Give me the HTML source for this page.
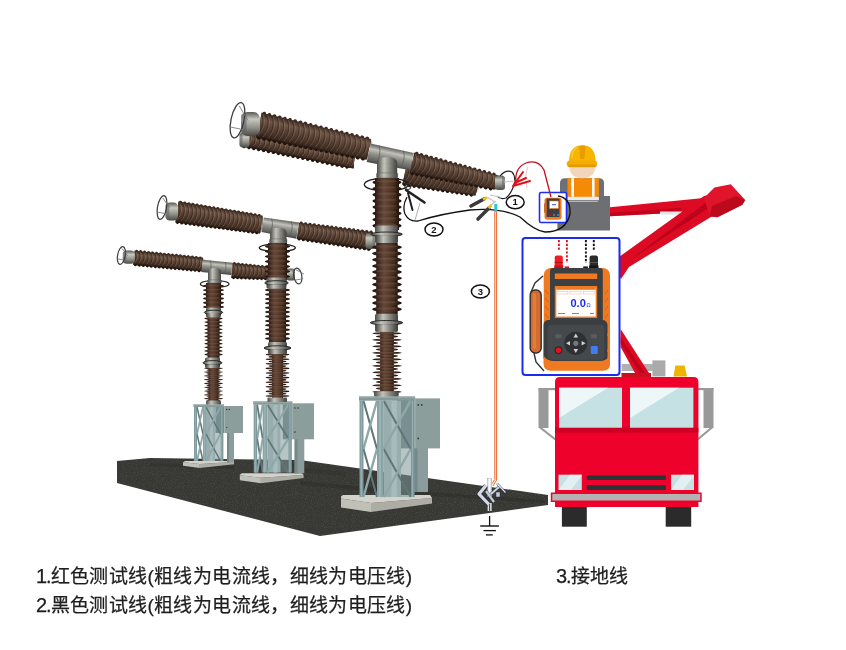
<!DOCTYPE html>
<html lang="zh-CN"><head><meta charset="utf-8">
<style>
html,body{margin:0;padding:0;background:#fff;}
body{width:846px;height:650px;position:relative;overflow:hidden;font-family:"Liberation Sans",sans-serif;}
.t{position:absolute;will-change:transform;font-size:19px;letter-spacing:0.36px;color:#1e1e1e;white-space:nowrap;-webkit-text-stroke:0.25px #1e1e1e;line-height:1;}
</style></head><body>
<svg width="846" height="650" viewBox="0 0 846 650" style="position:absolute;left:0;top:0;will-change:transform">
<defs>
<linearGradient id="brV" x1="0" x2="1" y1="0" y2="0">
 <stop offset="0" stop-color="#2a1a12"/><stop offset="0.3" stop-color="#5c4233"/><stop offset="0.65" stop-color="#4a3228"/><stop offset="1" stop-color="#22150e"/>
</linearGradient>
<linearGradient id="brArm" x1="0" x2="0" y1="0" y2="1">
 <stop offset="0" stop-color="#3e2c22"/><stop offset="0.25" stop-color="#6e5747"/><stop offset="0.5" stop-color="#584234"/><stop offset="0.8" stop-color="#433025"/><stop offset="1" stop-color="#2a1c14"/>
</linearGradient>
<linearGradient id="silArm" x1="0" x2="0" y1="0" y2="1">
 <stop offset="0" stop-color="#5e5e5a"/><stop offset="0.28" stop-color="#c2c2ba"/><stop offset="0.5" stop-color="#92928c"/><stop offset="0.85" stop-color="#62625e"/><stop offset="1" stop-color="#42423e"/>
</linearGradient>
<linearGradient id="shed" x1="0" x2="1" y1="0" y2="0">
 <stop offset="0" stop-color="#160b06"/><stop offset="0.14" stop-color="#38221a"/><stop offset="0.4" stop-color="#674838"/><stop offset="0.72" stop-color="#48301f"/><stop offset="0.9" stop-color="#2a180f"/><stop offset="1" stop-color="#140a05"/>
</linearGradient>
<linearGradient id="silV" x1="0" x2="1" y1="0" y2="0">
 <stop offset="0" stop-color="#4a4a46"/><stop offset="0.35" stop-color="#c4c4bc"/><stop offset="0.62" stop-color="#8c8c86"/><stop offset="1" stop-color="#42423e"/>
</linearGradient>
<linearGradient id="silH" x1="0" x2="0" y1="0" y2="1">
 <stop offset="0" stop-color="#5a5a56"/><stop offset="0.3" stop-color="#c8c8c0"/><stop offset="0.65" stop-color="#90908a"/><stop offset="1" stop-color="#484844"/>
</linearGradient>
<linearGradient id="steel" x1="0" x2="1" y1="0" y2="0">
 <stop offset="0" stop-color="#7f979a"/><stop offset="0.5" stop-color="#9fb5b7"/><stop offset="1" stop-color="#7a9194"/>
</linearGradient>
<filter id="noise" x="0" y="0" width="100%" height="100%">
 <feTurbulence type="fractalNoise" baseFrequency="0.9" numOctaves="2" seed="3" result="n"/>
 <feColorMatrix type="matrix" values="0 0 0 0 1  0 0 0 0 1  0 0 0 0 1  1.2 0 0 0 -0.55" in="n" result="a"/>
 <feComposite in="a" in2="SourceGraphic" operator="in"/>
</filter>
</defs>
<g>
<polygon points="117,461 150,458 300,460 548,495 548,505 320,536 117,483" fill="#373733"/>
<polygon points="117,461 150,458 300,460 548,495 548,505 320,536 117,483" fill="#888" filter="url(#noise)" opacity="0.18"/>
<polygon points="150,463 235,466 235,469 150,466" fill="#2e2e2c" opacity="0.5"/>
<polygon points="300,481 400,490 545,500 545,503 400,494 300,485" fill="#2c2c2a" opacity="0.5"/>
<polygon points="300,468 345,472 345,476 300,472" fill="#2c2c2a" opacity="0.4"/>
</g>
<polygon points="183,462.3 199.8,464.0 199.8,468.0 183,465.7" fill="#c0c0b8"/>
<polygon points="199.8,464.0 234,462.1 234,464.2 199.8,468.0" fill="#adada5"/>
<polygon points="185,461 232,461 234,462.1 199.8,464.0 183,462.3 183,462.5" fill="#d3d3cb"/>
<rect x="227" y="433" width="7" height="29" fill="#8a9d9c"/>
<rect x="227" y="433" width="2.1" height="29" fill="#76898a"/>
<rect x="215.5" y="407" width="8.5" height="26" fill="#75888a"/>
<rect x="206" y="407" width="9" height="54" fill="#98adae"/>
<rect x="210.1" y="407" width="2.7" height="54" fill="#a9bcbd"/>
<rect x="215" y="407" width="5.5" height="54" fill="#7d9597" opacity="0.55"/>
<line x1="197" y1="407.0" x2="203" y2="434.0" stroke="#5f7577" stroke-width="1.5"/>
<line x1="197" y1="434.0" x2="203" y2="407.0" stroke="#8ea8a9" stroke-width="1.8"/>
<line x1="197" y1="434.0" x2="203" y2="461.0" stroke="#5f7577" stroke-width="1.5"/>
<line x1="197" y1="461.0" x2="203" y2="434.0" stroke="#8ea8a9" stroke-width="1.8"/>
<line x1="206" y1="407.0" x2="220.5" y2="434.0" stroke="#5f7577" stroke-width="1.5"/>
<line x1="206" y1="434.0" x2="220.5" y2="407.0" stroke="#8ea8a9" stroke-width="1.8"/>
<line x1="206" y1="434.0" x2="220.5" y2="461.0" stroke="#5f7577" stroke-width="1.5"/>
<line x1="206" y1="461.0" x2="220.5" y2="434.0" stroke="#8ea8a9" stroke-width="1.8"/>
<rect x="194" y="407" width="3.0" height="54" fill="#7f9a9c"/>
<rect x="194.9" y="407" width="0.9" height="54" fill="#a2b9ba" opacity="0.7"/>
<rect x="220.5" y="407" width="2.9" height="54" fill="#7a9597"/>
<rect x="221.4" y="407" width="0.9" height="54" fill="#a2b9ba" opacity="0.7"/>
<rect x="203" y="407" width="3.0" height="54" fill="#8aa3a4"/>
<rect x="203.9" y="407" width="0.9" height="54" fill="#a2b9ba" opacity="0.7"/>
<rect x="193.5" y="404" width="30.400000000000006" height="3" fill="#869998"/>
<rect x="193.5" y="404" width="30.400000000000006" height="1.2" fill="#aebdbc"/>
<rect x="224" y="406" width="19" height="27" fill="#8b9e9c"/>
<rect x="224" y="406" width="1" height="27" fill="#a3b3b1"/>
<circle cx="226.7" cy="409.5" r="0.7" fill="#2f3838"/>
<circle cx="229.3" cy="409.5" r="0.7" fill="#2f3838"/>
<circle cx="226.7" cy="427.6" r="0.7" fill="#2f3838"/>
<polygon points="239.8,475.3 260.9,477.8 260.9,483.3 239.8,480.3" fill="#c0c0b8"/>
<polygon points="260.9,477.8 303.6,474.9 303.6,478.1 260.9,483.3" fill="#adada5"/>
<polygon points="241.8,473.3 301.6,473.3 303.6,474.9 260.9,477.8 239.8,475.3 239.8,474.8" fill="#d3d3cb"/>
<rect x="294.6" y="439" width="9.699999999999989" height="34.30000000000001" fill="#8a9d9c"/>
<rect x="294.6" y="439" width="2.9" height="34.30000000000001" fill="#76898a"/>
<rect x="282.8" y="404.3" width="9.0" height="35.0" fill="#75888a"/>
<rect x="267.5" y="404.7" width="13.199999999999989" height="67.90000000000003" fill="#98adae"/>
<rect x="273.4" y="404.7" width="4.0" height="67.90000000000003" fill="#a9bcbd"/>
<rect x="280.7" y="404.7" width="7.6" height="67.90000000000003" fill="#7d9597" opacity="0.55"/>
<line x1="257.2" y1="404.7" x2="262.7" y2="438.6" stroke="#5f7577" stroke-width="1.8"/>
<line x1="257.2" y1="438.6" x2="262.7" y2="404.7" stroke="#8ea8a9" stroke-width="2.1"/>
<line x1="257.2" y1="438.6" x2="262.7" y2="472.6" stroke="#5f7577" stroke-width="1.8"/>
<line x1="257.2" y1="472.6" x2="262.7" y2="438.6" stroke="#8ea8a9" stroke-width="2.1"/>
<line x1="267.5" y1="404.7" x2="288.3" y2="438.6" stroke="#5f7577" stroke-width="1.8"/>
<line x1="267.5" y1="438.6" x2="288.3" y2="404.7" stroke="#8ea8a9" stroke-width="2.1"/>
<line x1="267.5" y1="438.6" x2="288.3" y2="472.6" stroke="#5f7577" stroke-width="1.8"/>
<line x1="267.5" y1="472.6" x2="288.3" y2="438.6" stroke="#8ea8a9" stroke-width="2.1"/>
<rect x="253.7" y="404.7" width="3.5" height="67.90000000000003" fill="#7f9a9c"/>
<rect x="254.8" y="404.7" width="1.1" height="67.90000000000003" fill="#a2b9ba" opacity="0.7"/>
<rect x="288.3" y="404.7" width="3.5" height="67.90000000000003" fill="#7a9597"/>
<rect x="289.4" y="404.7" width="1.1" height="67.90000000000003" fill="#a2b9ba" opacity="0.7"/>
<rect x="262.7" y="404.7" width="4.8" height="67.90000000000003" fill="#8aa3a4"/>
<rect x="264.1" y="404.7" width="1.4" height="67.90000000000003" fill="#a2b9ba" opacity="0.7"/>
<rect x="253.2" y="401.2" width="39.10000000000002" height="3.5" fill="#869998"/>
<rect x="253.2" y="401.2" width="39.10000000000002" height="1.2" fill="#aebdbc"/>
<rect x="291.8" y="403.3" width="22.19999999999999" height="36.0" fill="#8b9e9c"/>
<rect x="291.8" y="403.3" width="1" height="36.0" fill="#a3b3b1"/>
<circle cx="294.9" cy="408.0" r="0.8" fill="#2f3838"/>
<circle cx="298.0" cy="408.0" r="0.8" fill="#2f3838"/>
<circle cx="294.9" cy="432.1" r="0.8" fill="#2f3838"/>
<polygon points="341,498.5 371.0,503.0 371.0,512.0 341,507.5" fill="#c0c0b8"/>
<polygon points="371.0,503.0 432,497.9 432,503.5 371.0,512.0" fill="#adada5"/>
<polygon points="343,495 430,495 432,497.9 371.0,503.0 341,498.5 341,496.5" fill="#d3d3cb"/>
<rect x="413" y="448" width="15" height="44" fill="#8a9d9c"/>
<rect x="413" y="448" width="4.5" height="44" fill="#76898a"/>
<rect x="397" y="399.4" width="17.600000000000023" height="49.0" fill="#75888a"/>
<rect x="383.7" y="400.7" width="17.30000000000001" height="96.30000000000001" fill="#98adae"/>
<rect x="391.5" y="400.7" width="5.2" height="96.30000000000001" fill="#a9bcbd"/>
<rect x="401" y="400.7" width="9.7" height="96.30000000000001" fill="#7d9597" opacity="0.55"/>
<line x1="363.5" y1="400.7" x2="377" y2="448.9" stroke="#5f7577" stroke-width="2.0"/>
<line x1="363.5" y1="448.9" x2="377" y2="400.7" stroke="#8ea8a9" stroke-width="2.4"/>
<line x1="363.5" y1="448.9" x2="377" y2="497.0" stroke="#5f7577" stroke-width="2.0"/>
<line x1="363.5" y1="497.0" x2="377" y2="448.9" stroke="#8ea8a9" stroke-width="2.4"/>
<line x1="383.7" y1="400.7" x2="410.7" y2="448.9" stroke="#5f7577" stroke-width="2.0"/>
<line x1="383.7" y1="448.9" x2="410.7" y2="400.7" stroke="#8ea8a9" stroke-width="2.4"/>
<line x1="383.7" y1="448.9" x2="410.7" y2="497.0" stroke="#5f7577" stroke-width="2.0"/>
<line x1="383.7" y1="497.0" x2="410.7" y2="448.9" stroke="#8ea8a9" stroke-width="2.4"/>
<rect x="359.5" y="400.7" width="4.0" height="96.30000000000001" fill="#7f9a9c"/>
<rect x="360.7" y="400.7" width="1.2" height="96.30000000000001" fill="#a2b9ba" opacity="0.7"/>
<rect x="410.7" y="400.7" width="3.9" height="96.30000000000001" fill="#7a9597"/>
<rect x="411.9" y="400.7" width="1.2" height="96.30000000000001" fill="#a2b9ba" opacity="0.7"/>
<rect x="377" y="400.7" width="6.7" height="96.30000000000001" fill="#8aa3a4"/>
<rect x="379.0" y="400.7" width="2.0" height="96.30000000000001" fill="#a2b9ba" opacity="0.7"/>
<rect x="359.0" y="396.2" width="56.10000000000002" height="4.5" fill="#869998"/>
<rect x="359.0" y="396.2" width="56.10000000000002" height="1.2" fill="#aebdbc"/>
<rect x="414.6" y="398.4" width="25.399999999999977" height="50.0" fill="#8b9e9c"/>
<rect x="414.6" y="398.4" width="1" height="50.0" fill="#a3b3b1"/>
<circle cx="418.2" cy="404.9" r="0.9" fill="#2f3838"/>
<circle cx="421.7" cy="404.9" r="0.9" fill="#2f3838"/>
<circle cx="418.2" cy="438.4" r="0.9" fill="#2f3838"/>
<g transform="translate(232.0,270.5) rotate(4.09)">
<polygon points="0,-7.5 56.1,-5.5 56.1,5.5 0,7.5" fill="url(#brArm)"/>
<circle cx="2.0" cy="-7.1" r="1.44" fill="#3e2a20"/>
<circle cx="2.0" cy="7.1" r="1.44" fill="#21140d"/>
<circle cx="6.0" cy="-7.0" r="1.44" fill="#3e2a20"/>
<circle cx="6.0" cy="7.0" r="1.44" fill="#21140d"/>
<circle cx="10.0" cy="-6.8" r="1.44" fill="#3e2a20"/>
<circle cx="10.0" cy="6.8" r="1.44" fill="#21140d"/>
<circle cx="14.0" cy="-6.7" r="1.44" fill="#3e2a20"/>
<circle cx="14.0" cy="6.7" r="1.44" fill="#21140d"/>
<circle cx="18.0" cy="-6.6" r="1.44" fill="#3e2a20"/>
<circle cx="18.0" cy="6.6" r="1.44" fill="#21140d"/>
<circle cx="22.0" cy="-6.4" r="1.44" fill="#3e2a20"/>
<circle cx="22.0" cy="6.4" r="1.44" fill="#21140d"/>
<circle cx="26.0" cy="-6.3" r="1.44" fill="#3e2a20"/>
<circle cx="26.0" cy="6.3" r="1.44" fill="#21140d"/>
<circle cx="30.0" cy="-6.1" r="1.44" fill="#3e2a20"/>
<circle cx="30.0" cy="6.1" r="1.44" fill="#21140d"/>
<circle cx="34.0" cy="-6.0" r="1.44" fill="#3e2a20"/>
<circle cx="34.0" cy="6.0" r="1.44" fill="#21140d"/>
<circle cx="38.0" cy="-5.8" r="1.44" fill="#3e2a20"/>
<circle cx="38.0" cy="5.8" r="1.44" fill="#21140d"/>
<circle cx="42.0" cy="-5.7" r="1.44" fill="#3e2a20"/>
<circle cx="42.0" cy="5.7" r="1.44" fill="#21140d"/>
<circle cx="46.0" cy="-5.6" r="1.44" fill="#3e2a20"/>
<circle cx="46.0" cy="5.6" r="1.44" fill="#21140d"/>
<circle cx="50.0" cy="-5.4" r="1.44" fill="#3e2a20"/>
<circle cx="50.0" cy="5.4" r="1.44" fill="#21140d"/>
<circle cx="54.0" cy="-5.3" r="1.44" fill="#3e2a20"/>
<circle cx="54.0" cy="5.3" r="1.44" fill="#21140d"/>
<polygon points="0,-6.7 56.1,-4.7 56.1,4.7 0,6.7" fill="url(#brArm)"/>
<path d="M0.0,-7.5 Q4.2,0 0.0,7.5" stroke="#33201a" stroke-width="1.1" fill="none" opacity="0.55"/>
<path d="M1.3,-6.5 Q5.5,-1.5 1.3,5.5" stroke="#a08474" stroke-width="0.7" fill="none" opacity="0.5"/>
<path d="M4.0,-7.4 Q8.1,0 4.0,7.4" stroke="#33201a" stroke-width="1.1" fill="none" opacity="0.55"/>
<path d="M5.3,-6.4 Q9.4,-1.5 5.3,5.4" stroke="#a08474" stroke-width="0.7" fill="none" opacity="0.5"/>
<path d="M8.0,-7.2 Q12.0,0 8.0,7.2" stroke="#33201a" stroke-width="1.1" fill="none" opacity="0.55"/>
<path d="M9.3,-6.2 Q13.3,-1.4 9.3,5.2" stroke="#a08474" stroke-width="0.7" fill="none" opacity="0.5"/>
<path d="M12.0,-7.1 Q16.0,0 12.0,7.1" stroke="#33201a" stroke-width="1.1" fill="none" opacity="0.55"/>
<path d="M13.3,-6.1 Q17.3,-1.4 13.3,5.1" stroke="#a08474" stroke-width="0.7" fill="none" opacity="0.5"/>
<path d="M16.0,-6.9 Q19.9,0 16.0,6.9" stroke="#33201a" stroke-width="1.1" fill="none" opacity="0.55"/>
<path d="M17.3,-5.9 Q21.2,-1.4 17.3,4.9" stroke="#a08474" stroke-width="0.7" fill="none" opacity="0.5"/>
<path d="M20.0,-6.8 Q23.8,0 20.0,6.8" stroke="#33201a" stroke-width="1.1" fill="none" opacity="0.55"/>
<path d="M21.3,-5.8 Q25.1,-1.4 21.3,4.8" stroke="#a08474" stroke-width="0.7" fill="none" opacity="0.5"/>
<path d="M24.0,-6.6 Q27.7,0 24.0,6.6" stroke="#33201a" stroke-width="1.1" fill="none" opacity="0.55"/>
<path d="M25.3,-5.6 Q29.0,-1.3 25.3,4.6" stroke="#a08474" stroke-width="0.7" fill="none" opacity="0.5"/>
<path d="M28.0,-6.5 Q31.6,0 28.0,6.5" stroke="#33201a" stroke-width="1.1" fill="none" opacity="0.55"/>
<path d="M29.3,-5.5 Q32.9,-1.3 29.3,4.5" stroke="#a08474" stroke-width="0.7" fill="none" opacity="0.5"/>
<path d="M32.0,-6.4 Q35.6,0 32.0,6.4" stroke="#33201a" stroke-width="1.1" fill="none" opacity="0.55"/>
<path d="M33.3,-5.4 Q36.9,-1.3 33.3,4.4" stroke="#a08474" stroke-width="0.7" fill="none" opacity="0.5"/>
<path d="M36.0,-6.2 Q39.5,0 36.0,6.2" stroke="#33201a" stroke-width="1.1" fill="none" opacity="0.55"/>
<path d="M37.3,-5.2 Q40.8,-1.2 37.3,4.2" stroke="#a08474" stroke-width="0.7" fill="none" opacity="0.5"/>
<path d="M40.0,-6.1 Q43.4,0 40.0,6.1" stroke="#33201a" stroke-width="1.1" fill="none" opacity="0.55"/>
<path d="M41.3,-5.1 Q44.7,-1.2 41.3,4.1" stroke="#a08474" stroke-width="0.7" fill="none" opacity="0.5"/>
<path d="M44.0,-5.9 Q47.3,0 44.0,5.9" stroke="#33201a" stroke-width="1.1" fill="none" opacity="0.55"/>
<path d="M45.3,-4.9 Q48.6,-1.2 45.3,3.9" stroke="#a08474" stroke-width="0.7" fill="none" opacity="0.5"/>
<path d="M48.0,-5.8 Q51.2,0 48.0,5.8" stroke="#33201a" stroke-width="1.1" fill="none" opacity="0.55"/>
<path d="M49.3,-4.8 Q52.5,-1.2 49.3,3.8" stroke="#a08474" stroke-width="0.7" fill="none" opacity="0.5"/>
<path d="M52.0,-5.6 Q55.2,0 52.0,5.6" stroke="#33201a" stroke-width="1.1" fill="none" opacity="0.55"/>
<path d="M53.3,-4.6 Q56.5,-1.1 53.3,3.6" stroke="#a08474" stroke-width="0.7" fill="none" opacity="0.5"/>
<path d="M56.0,-5.5 Q59.1,0 56.0,5.5" stroke="#33201a" stroke-width="1.1" fill="none" opacity="0.55"/>
<path d="M57.3,-4.5 Q60.4,-1.1 57.3,3.5" stroke="#a08474" stroke-width="0.7" fill="none" opacity="0.5"/>
</g>
<rect x="287.0" y="268.5" width="8.0" height="12.0" rx="2.8" fill="url(#silH)"/>
<rect x="292.6" y="269.2" width="2.4" height="10.6" rx="1.2" fill="#5e605e" opacity="0.55"/>
<g transform="translate(297.8,276) rotate(-10)">
<ellipse cx="0" cy="0" rx="4" ry="8" fill="none" stroke="#3a3c3c" stroke-width="1.2"/>
<line x1="-3.6" y1="3.6" x2="4.8" y2="3.6" stroke="#777" stroke-width="0.8"/>
<line x1="-0.8" y1="-6.4" x2="6.4" y2="-0.8" stroke="#777" stroke-width="0.8"/>
</g>
<g transform="translate(214.7,284) rotate(0)">
<ellipse cx="0" cy="0" rx="14.3" ry="3.5" fill="none" stroke="#222" stroke-width="1.2"/>
</g>
<rect x="206.0" y="283" width="15" height="25" fill="url(#brV)"/>
<ellipse cx="213.5" cy="285.9" rx="10.5" ry="1.70" fill="url(#shed)"/>
<ellipse cx="213.0" cy="285.3" rx="7.3" ry="0.77" fill="#7a5e50" opacity="0.35"/>
<ellipse cx="213.5" cy="290.1" rx="10.5" ry="1.70" fill="url(#shed)"/>
<ellipse cx="213.0" cy="289.5" rx="7.3" ry="0.77" fill="#7a5e50" opacity="0.35"/>
<ellipse cx="213.5" cy="294.3" rx="10.5" ry="1.70" fill="url(#shed)"/>
<ellipse cx="213.0" cy="293.7" rx="7.3" ry="0.77" fill="#7a5e50" opacity="0.35"/>
<ellipse cx="213.5" cy="298.5" rx="10.5" ry="1.70" fill="url(#shed)"/>
<ellipse cx="213.0" cy="297.9" rx="7.3" ry="0.77" fill="#7a5e50" opacity="0.35"/>
<ellipse cx="213.5" cy="302.7" rx="10.5" ry="1.70" fill="url(#shed)"/>
<ellipse cx="213.0" cy="302.1" rx="7.3" ry="0.77" fill="#7a5e50" opacity="0.35"/>
<ellipse cx="213.5" cy="306.9" rx="10.5" ry="1.70" fill="url(#shed)"/>
<ellipse cx="213.0" cy="306.3" rx="7.3" ry="0.77" fill="#7a5e50" opacity="0.35"/>
<rect x="207.5" y="316" width="12" height="42" fill="url(#brV)"/>
<ellipse cx="213.5" cy="318.5" rx="9.2" ry="1.30" fill="url(#shed)"/>
<ellipse cx="213.0" cy="318.1" rx="6.5" ry="0.59" fill="#7a5e50" opacity="0.35"/>
<ellipse cx="213.5" cy="322.1" rx="9.2" ry="1.30" fill="url(#shed)"/>
<ellipse cx="213.0" cy="321.7" rx="6.5" ry="0.59" fill="#7a5e50" opacity="0.35"/>
<ellipse cx="213.5" cy="325.7" rx="9.2" ry="1.30" fill="url(#shed)"/>
<ellipse cx="213.0" cy="325.3" rx="6.5" ry="0.59" fill="#7a5e50" opacity="0.35"/>
<ellipse cx="213.5" cy="329.3" rx="9.2" ry="1.30" fill="url(#shed)"/>
<ellipse cx="213.0" cy="328.9" rx="6.5" ry="0.59" fill="#7a5e50" opacity="0.35"/>
<ellipse cx="213.5" cy="332.9" rx="9.2" ry="1.30" fill="url(#shed)"/>
<ellipse cx="213.0" cy="332.5" rx="6.5" ry="0.59" fill="#7a5e50" opacity="0.35"/>
<ellipse cx="213.5" cy="336.5" rx="9.2" ry="1.30" fill="url(#shed)"/>
<ellipse cx="213.0" cy="336.1" rx="6.5" ry="0.59" fill="#7a5e50" opacity="0.35"/>
<ellipse cx="213.5" cy="340.1" rx="9.2" ry="1.30" fill="url(#shed)"/>
<ellipse cx="213.0" cy="339.7" rx="6.5" ry="0.59" fill="#7a5e50" opacity="0.35"/>
<ellipse cx="213.5" cy="343.7" rx="9.2" ry="1.30" fill="url(#shed)"/>
<ellipse cx="213.0" cy="343.3" rx="6.5" ry="0.59" fill="#7a5e50" opacity="0.35"/>
<ellipse cx="213.5" cy="347.3" rx="9.2" ry="1.30" fill="url(#shed)"/>
<ellipse cx="213.0" cy="346.9" rx="6.5" ry="0.59" fill="#7a5e50" opacity="0.35"/>
<ellipse cx="213.5" cy="350.9" rx="9.2" ry="1.30" fill="url(#shed)"/>
<ellipse cx="213.0" cy="350.5" rx="6.5" ry="0.59" fill="#7a5e50" opacity="0.35"/>
<ellipse cx="213.5" cy="354.5" rx="9.2" ry="1.30" fill="url(#shed)"/>
<ellipse cx="213.0" cy="354.1" rx="6.5" ry="0.59" fill="#7a5e50" opacity="0.35"/>
<rect x="208.5" y="367" width="10" height="35" fill="url(#brV)"/>
<ellipse cx="213.5" cy="368.3" rx="9.5" ry="0.90" fill="url(#shed)"/>
<ellipse cx="213.0" cy="368.0" rx="6.6" ry="0.41" fill="#7a5e50" opacity="0.35"/>
<ellipse cx="213.5" cy="370.2" rx="7.0" ry="0.90" fill="url(#shed)"/>
<ellipse cx="213.0" cy="369.9" rx="4.9" ry="0.41" fill="#7a5e50" opacity="0.35"/>
<ellipse cx="213.5" cy="372.1" rx="9.5" ry="0.90" fill="url(#shed)"/>
<ellipse cx="213.0" cy="371.8" rx="6.6" ry="0.41" fill="#7a5e50" opacity="0.35"/>
<ellipse cx="213.5" cy="374.0" rx="7.0" ry="0.90" fill="url(#shed)"/>
<ellipse cx="213.0" cy="373.7" rx="4.9" ry="0.41" fill="#7a5e50" opacity="0.35"/>
<ellipse cx="213.5" cy="375.9" rx="9.5" ry="0.90" fill="url(#shed)"/>
<ellipse cx="213.0" cy="375.6" rx="6.6" ry="0.41" fill="#7a5e50" opacity="0.35"/>
<ellipse cx="213.5" cy="377.8" rx="7.0" ry="0.90" fill="url(#shed)"/>
<ellipse cx="213.0" cy="377.5" rx="4.9" ry="0.41" fill="#7a5e50" opacity="0.35"/>
<ellipse cx="213.5" cy="379.7" rx="9.5" ry="0.90" fill="url(#shed)"/>
<ellipse cx="213.0" cy="379.4" rx="6.6" ry="0.41" fill="#7a5e50" opacity="0.35"/>
<ellipse cx="213.5" cy="381.6" rx="7.0" ry="0.90" fill="url(#shed)"/>
<ellipse cx="213.0" cy="381.3" rx="4.9" ry="0.41" fill="#7a5e50" opacity="0.35"/>
<ellipse cx="213.5" cy="383.5" rx="9.5" ry="0.90" fill="url(#shed)"/>
<ellipse cx="213.0" cy="383.2" rx="6.6" ry="0.41" fill="#7a5e50" opacity="0.35"/>
<ellipse cx="213.5" cy="385.4" rx="7.0" ry="0.90" fill="url(#shed)"/>
<ellipse cx="213.0" cy="385.1" rx="4.9" ry="0.41" fill="#7a5e50" opacity="0.35"/>
<ellipse cx="213.5" cy="387.3" rx="9.5" ry="0.90" fill="url(#shed)"/>
<ellipse cx="213.0" cy="387.0" rx="6.6" ry="0.41" fill="#7a5e50" opacity="0.35"/>
<ellipse cx="213.5" cy="389.2" rx="7.0" ry="0.90" fill="url(#shed)"/>
<ellipse cx="213.0" cy="388.9" rx="4.9" ry="0.41" fill="#7a5e50" opacity="0.35"/>
<ellipse cx="213.5" cy="391.1" rx="9.5" ry="0.90" fill="url(#shed)"/>
<ellipse cx="213.0" cy="390.8" rx="6.6" ry="0.41" fill="#7a5e50" opacity="0.35"/>
<ellipse cx="213.5" cy="393.0" rx="7.0" ry="0.90" fill="url(#shed)"/>
<ellipse cx="213.0" cy="392.7" rx="4.9" ry="0.41" fill="#7a5e50" opacity="0.35"/>
<ellipse cx="213.5" cy="394.9" rx="9.5" ry="0.90" fill="url(#shed)"/>
<ellipse cx="213.0" cy="394.6" rx="6.6" ry="0.41" fill="#7a5e50" opacity="0.35"/>
<ellipse cx="213.5" cy="396.8" rx="7.0" ry="0.90" fill="url(#shed)"/>
<ellipse cx="213.0" cy="396.5" rx="4.9" ry="0.41" fill="#7a5e50" opacity="0.35"/>
<ellipse cx="213.5" cy="398.7" rx="9.5" ry="0.90" fill="url(#shed)"/>
<ellipse cx="213.0" cy="398.4" rx="6.6" ry="0.41" fill="#7a5e50" opacity="0.35"/>
<ellipse cx="213.5" cy="400.6" rx="7.0" ry="0.90" fill="url(#shed)"/>
<ellipse cx="213.0" cy="400.3" rx="4.9" ry="0.41" fill="#7a5e50" opacity="0.35"/>
<rect x="206.0" y="307.5" width="15" height="9.800000000000011" rx="1.5" fill="url(#silV)"/>
<ellipse cx="213.5" cy="312.4" rx="9.2" ry="2.2" fill="url(#silV)" stroke="#1e1e1c" stroke-width="0.9"/>
<rect x="207.0" y="314.0" width="13" height="3.3" rx="1" fill="url(#silV)"/>
<rect x="205.0" y="357.6" width="15" height="10.399999999999977" rx="1.5" fill="url(#silV)"/>
<ellipse cx="212.5" cy="362.8" rx="9.5" ry="2.2" fill="url(#silV)" stroke="#1e1e1c" stroke-width="0.9"/>
<rect x="206.0" y="364.4" width="13" height="3.6" rx="1" fill="url(#silV)"/>
<rect x="206" y="400.5" width="15" height="4" rx="1" fill="url(#silV)"/>
<g transform="translate(134.0,257.8) rotate(5.67)">
<polygon points="0,-7.2 68.8,-6.8 68.8,6.8 0,7.2" fill="url(#brArm)"/>
<circle cx="2.0" cy="-6.9" r="1.44" fill="#3e2a20"/>
<circle cx="2.0" cy="6.9" r="1.44" fill="#21140d"/>
<circle cx="6.0" cy="-6.9" r="1.44" fill="#3e2a20"/>
<circle cx="6.0" cy="6.9" r="1.44" fill="#21140d"/>
<circle cx="10.0" cy="-6.8" r="1.44" fill="#3e2a20"/>
<circle cx="10.0" cy="6.8" r="1.44" fill="#21140d"/>
<circle cx="14.0" cy="-6.8" r="1.44" fill="#3e2a20"/>
<circle cx="14.0" cy="6.8" r="1.44" fill="#21140d"/>
<circle cx="18.0" cy="-6.8" r="1.44" fill="#3e2a20"/>
<circle cx="18.0" cy="6.8" r="1.44" fill="#21140d"/>
<circle cx="22.0" cy="-6.8" r="1.44" fill="#3e2a20"/>
<circle cx="22.0" cy="6.8" r="1.44" fill="#21140d"/>
<circle cx="26.0" cy="-6.7" r="1.44" fill="#3e2a20"/>
<circle cx="26.0" cy="6.7" r="1.44" fill="#21140d"/>
<circle cx="30.0" cy="-6.7" r="1.44" fill="#3e2a20"/>
<circle cx="30.0" cy="6.7" r="1.44" fill="#21140d"/>
<circle cx="34.0" cy="-6.7" r="1.44" fill="#3e2a20"/>
<circle cx="34.0" cy="6.7" r="1.44" fill="#21140d"/>
<circle cx="38.0" cy="-6.7" r="1.44" fill="#3e2a20"/>
<circle cx="38.0" cy="6.7" r="1.44" fill="#21140d"/>
<circle cx="42.0" cy="-6.7" r="1.44" fill="#3e2a20"/>
<circle cx="42.0" cy="6.7" r="1.44" fill="#21140d"/>
<circle cx="46.0" cy="-6.6" r="1.44" fill="#3e2a20"/>
<circle cx="46.0" cy="6.6" r="1.44" fill="#21140d"/>
<circle cx="50.0" cy="-6.6" r="1.44" fill="#3e2a20"/>
<circle cx="50.0" cy="6.6" r="1.44" fill="#21140d"/>
<circle cx="54.0" cy="-6.6" r="1.44" fill="#3e2a20"/>
<circle cx="54.0" cy="6.6" r="1.44" fill="#21140d"/>
<circle cx="58.0" cy="-6.6" r="1.44" fill="#3e2a20"/>
<circle cx="58.0" cy="6.6" r="1.44" fill="#21140d"/>
<circle cx="62.0" cy="-6.5" r="1.44" fill="#3e2a20"/>
<circle cx="62.0" cy="6.5" r="1.44" fill="#21140d"/>
<circle cx="66.0" cy="-6.5" r="1.44" fill="#3e2a20"/>
<circle cx="66.0" cy="6.5" r="1.44" fill="#21140d"/>
<polygon points="0,-6.4 68.8,-6.0 68.8,6.0 0,6.4" fill="url(#brArm)"/>
<path d="M0.0,-7.2 Q4.0,0 0.0,7.2" stroke="#33201a" stroke-width="1.1" fill="none" opacity="0.55"/>
<path d="M1.3,-6.2 Q5.3,-1.4 1.3,5.2" stroke="#a08474" stroke-width="0.7" fill="none" opacity="0.5"/>
<path d="M4.0,-7.2 Q8.0,0 4.0,7.2" stroke="#33201a" stroke-width="1.1" fill="none" opacity="0.55"/>
<path d="M5.3,-6.2 Q9.3,-1.4 5.3,5.2" stroke="#a08474" stroke-width="0.7" fill="none" opacity="0.5"/>
<path d="M8.0,-7.2 Q12.0,0 8.0,7.2" stroke="#33201a" stroke-width="1.1" fill="none" opacity="0.55"/>
<path d="M9.3,-6.2 Q13.3,-1.4 9.3,5.2" stroke="#a08474" stroke-width="0.7" fill="none" opacity="0.5"/>
<path d="M12.0,-7.1 Q16.0,0 12.0,7.1" stroke="#33201a" stroke-width="1.1" fill="none" opacity="0.55"/>
<path d="M13.3,-6.1 Q17.3,-1.4 13.3,5.1" stroke="#a08474" stroke-width="0.7" fill="none" opacity="0.5"/>
<path d="M16.0,-7.1 Q20.0,0 16.0,7.1" stroke="#33201a" stroke-width="1.1" fill="none" opacity="0.55"/>
<path d="M17.3,-6.1 Q21.3,-1.4 17.3,5.1" stroke="#a08474" stroke-width="0.7" fill="none" opacity="0.5"/>
<path d="M20.0,-7.1 Q24.0,0 20.0,7.1" stroke="#33201a" stroke-width="1.1" fill="none" opacity="0.55"/>
<path d="M21.3,-6.1 Q25.3,-1.4 21.3,5.1" stroke="#a08474" stroke-width="0.7" fill="none" opacity="0.5"/>
<path d="M24.0,-7.1 Q28.0,0 24.0,7.1" stroke="#33201a" stroke-width="1.1" fill="none" opacity="0.55"/>
<path d="M25.3,-6.1 Q29.3,-1.4 25.3,5.1" stroke="#a08474" stroke-width="0.7" fill="none" opacity="0.5"/>
<path d="M28.0,-7.0 Q31.9,0 28.0,7.0" stroke="#33201a" stroke-width="1.1" fill="none" opacity="0.55"/>
<path d="M29.3,-6.0 Q33.2,-1.4 29.3,5.0" stroke="#a08474" stroke-width="0.7" fill="none" opacity="0.5"/>
<path d="M32.0,-7.0 Q35.9,0 32.0,7.0" stroke="#33201a" stroke-width="1.1" fill="none" opacity="0.55"/>
<path d="M33.3,-6.0 Q37.2,-1.4 33.3,5.0" stroke="#a08474" stroke-width="0.7" fill="none" opacity="0.5"/>
<path d="M36.0,-7.0 Q39.9,0 36.0,7.0" stroke="#33201a" stroke-width="1.1" fill="none" opacity="0.55"/>
<path d="M37.3,-6.0 Q41.2,-1.4 37.3,5.0" stroke="#a08474" stroke-width="0.7" fill="none" opacity="0.5"/>
<path d="M40.0,-7.0 Q43.9,0 40.0,7.0" stroke="#33201a" stroke-width="1.1" fill="none" opacity="0.55"/>
<path d="M41.3,-6.0 Q45.2,-1.4 41.3,5.0" stroke="#a08474" stroke-width="0.7" fill="none" opacity="0.5"/>
<path d="M44.0,-6.9 Q47.9,0 44.0,6.9" stroke="#33201a" stroke-width="1.1" fill="none" opacity="0.55"/>
<path d="M45.3,-5.9 Q49.2,-1.4 45.3,4.9" stroke="#a08474" stroke-width="0.7" fill="none" opacity="0.5"/>
<path d="M48.0,-6.9 Q51.9,0 48.0,6.9" stroke="#33201a" stroke-width="1.1" fill="none" opacity="0.55"/>
<path d="M49.3,-5.9 Q53.2,-1.4 49.3,4.9" stroke="#a08474" stroke-width="0.7" fill="none" opacity="0.5"/>
<path d="M52.0,-6.9 Q55.9,0 52.0,6.9" stroke="#33201a" stroke-width="1.1" fill="none" opacity="0.55"/>
<path d="M53.3,-5.9 Q57.2,-1.4 53.3,4.9" stroke="#a08474" stroke-width="0.7" fill="none" opacity="0.5"/>
<path d="M56.0,-6.9 Q59.8,0 56.0,6.9" stroke="#33201a" stroke-width="1.1" fill="none" opacity="0.55"/>
<path d="M57.3,-5.9 Q61.1,-1.4 57.3,4.9" stroke="#a08474" stroke-width="0.7" fill="none" opacity="0.5"/>
<path d="M60.0,-6.9 Q63.8,0 60.0,6.9" stroke="#33201a" stroke-width="1.1" fill="none" opacity="0.55"/>
<path d="M61.3,-5.9 Q65.1,-1.4 61.3,4.9" stroke="#a08474" stroke-width="0.7" fill="none" opacity="0.5"/>
<path d="M64.0,-6.8 Q67.8,0 64.0,6.8" stroke="#33201a" stroke-width="1.1" fill="none" opacity="0.55"/>
<path d="M65.3,-5.8 Q69.1,-1.4 65.3,4.8" stroke="#a08474" stroke-width="0.7" fill="none" opacity="0.5"/>
<path d="M68.0,-6.8 Q71.8,0 68.0,6.8" stroke="#33201a" stroke-width="1.1" fill="none" opacity="0.55"/>
<path d="M69.3,-5.8 Q73.1,-1.4 69.3,4.8" stroke="#a08474" stroke-width="0.7" fill="none" opacity="0.5"/>
</g>
<rect x="122.8" y="250.6" width="12.0" height="13.2" rx="4.0" fill="url(#silH)"/>
<rect x="122.8" y="251.4" width="3.6" height="11.6" rx="1.8" fill="#5e605e" opacity="0.55"/>
<g transform="translate(121.4,255.5) rotate(10)">
<ellipse cx="0" cy="0" rx="3.8" ry="9" fill="none" stroke="#3a3c3c" stroke-width="1.2"/>
<line x1="-3.4" y1="4.0" x2="4.6" y2="4.0" stroke="#777" stroke-width="0.8"/>
<line x1="-0.8" y1="-7.2" x2="6.1" y2="-0.9" stroke="#777" stroke-width="0.8"/>
</g>
<g transform="translate(202.0,265.8) rotate(5.71)">
<polygon points="0,-6.2 30.1,-6.2 30.1,6.2 0,6.2" fill="url(#silArm)"/>
<path d="M7.5,-6.2 Q10.7,0 7.5,6.2" stroke="#5a5c5a" stroke-width="0.8" fill="none" opacity="0.8"/>
<path d="M22.6,-6.2 Q25.7,0 22.6,6.2" stroke="#5a5c5a" stroke-width="0.8" fill="none" opacity="0.8"/>
</g>
<rect x="208" y="271.9" width="13.0" height="11.1" fill="url(#silV)"/>
<path d="M208,272.2 Q208,268.0 214.5,268.0 Q221,268.0 221,272.2 Z" fill="url(#silV)"/>
<rect x="207.5" y="279.8" width="14.0" height="3.2" rx="1" fill="url(#silV)" stroke="#555" stroke-width="0.4"/>
<g transform="translate(298.0,230.8) rotate(7.89)">
<polygon points="0,-8.2 74.7,-9.0 74.7,9.0 0,8.2" fill="url(#brArm)"/>
<circle cx="2.2" cy="-8.0" r="1.58" fill="#3e2a20"/>
<circle cx="2.2" cy="8.0" r="1.58" fill="#21140d"/>
<circle cx="6.6" cy="-8.0" r="1.58" fill="#3e2a20"/>
<circle cx="6.6" cy="8.0" r="1.58" fill="#21140d"/>
<circle cx="11.0" cy="-8.1" r="1.58" fill="#3e2a20"/>
<circle cx="11.0" cy="8.1" r="1.58" fill="#21140d"/>
<circle cx="15.4" cy="-8.1" r="1.58" fill="#3e2a20"/>
<circle cx="15.4" cy="8.1" r="1.58" fill="#21140d"/>
<circle cx="19.8" cy="-8.1" r="1.58" fill="#3e2a20"/>
<circle cx="19.8" cy="8.1" r="1.58" fill="#21140d"/>
<circle cx="24.2" cy="-8.2" r="1.58" fill="#3e2a20"/>
<circle cx="24.2" cy="8.2" r="1.58" fill="#21140d"/>
<circle cx="28.6" cy="-8.2" r="1.58" fill="#3e2a20"/>
<circle cx="28.6" cy="8.2" r="1.58" fill="#21140d"/>
<circle cx="33.0" cy="-8.3" r="1.58" fill="#3e2a20"/>
<circle cx="33.0" cy="8.3" r="1.58" fill="#21140d"/>
<circle cx="37.4" cy="-8.3" r="1.58" fill="#3e2a20"/>
<circle cx="37.4" cy="8.3" r="1.58" fill="#21140d"/>
<circle cx="41.8" cy="-8.4" r="1.58" fill="#3e2a20"/>
<circle cx="41.8" cy="8.4" r="1.58" fill="#21140d"/>
<circle cx="46.2" cy="-8.4" r="1.58" fill="#3e2a20"/>
<circle cx="46.2" cy="8.4" r="1.58" fill="#21140d"/>
<circle cx="50.6" cy="-8.5" r="1.58" fill="#3e2a20"/>
<circle cx="50.6" cy="8.5" r="1.58" fill="#21140d"/>
<circle cx="55.0" cy="-8.5" r="1.58" fill="#3e2a20"/>
<circle cx="55.0" cy="8.5" r="1.58" fill="#21140d"/>
<circle cx="59.4" cy="-8.5" r="1.58" fill="#3e2a20"/>
<circle cx="59.4" cy="8.5" r="1.58" fill="#21140d"/>
<circle cx="63.8" cy="-8.6" r="1.58" fill="#3e2a20"/>
<circle cx="63.8" cy="8.6" r="1.58" fill="#21140d"/>
<circle cx="68.2" cy="-8.6" r="1.58" fill="#3e2a20"/>
<circle cx="68.2" cy="8.6" r="1.58" fill="#21140d"/>
<circle cx="72.6" cy="-8.7" r="1.58" fill="#3e2a20"/>
<circle cx="72.6" cy="8.7" r="1.58" fill="#21140d"/>
<polygon points="0,-7.5 74.7,-8.2 74.7,8.2 0,7.5" fill="url(#brArm)"/>
<path d="M0.0,-8.2 Q4.6,0 0.0,8.2" stroke="#33201a" stroke-width="1.1" fill="none" opacity="0.55"/>
<path d="M1.3,-7.2 Q5.9,-1.7 1.3,6.2" stroke="#a08474" stroke-width="0.7" fill="none" opacity="0.5"/>
<path d="M4.4,-8.3 Q9.0,0 4.4,8.3" stroke="#33201a" stroke-width="1.1" fill="none" opacity="0.55"/>
<path d="M5.7,-7.3 Q10.3,-1.7 5.7,6.3" stroke="#a08474" stroke-width="0.7" fill="none" opacity="0.5"/>
<path d="M8.8,-8.3 Q13.5,0 8.8,8.3" stroke="#33201a" stroke-width="1.1" fill="none" opacity="0.55"/>
<path d="M10.1,-7.3 Q14.8,-1.7 10.1,6.3" stroke="#a08474" stroke-width="0.7" fill="none" opacity="0.5"/>
<path d="M13.2,-8.4 Q17.9,0 13.2,8.4" stroke="#33201a" stroke-width="1.1" fill="none" opacity="0.55"/>
<path d="M14.5,-7.4 Q19.2,-1.7 14.5,6.4" stroke="#a08474" stroke-width="0.7" fill="none" opacity="0.5"/>
<path d="M17.6,-8.4 Q22.3,0 17.6,8.4" stroke="#33201a" stroke-width="1.1" fill="none" opacity="0.55"/>
<path d="M18.9,-7.4 Q23.6,-1.7 18.9,6.4" stroke="#a08474" stroke-width="0.7" fill="none" opacity="0.5"/>
<path d="M22.0,-8.5 Q26.7,0 22.0,8.5" stroke="#33201a" stroke-width="1.1" fill="none" opacity="0.55"/>
<path d="M23.3,-7.5 Q28.0,-1.7 23.3,6.5" stroke="#a08474" stroke-width="0.7" fill="none" opacity="0.5"/>
<path d="M26.4,-8.5 Q31.2,0 26.4,8.5" stroke="#33201a" stroke-width="1.1" fill="none" opacity="0.55"/>
<path d="M27.7,-7.5 Q32.5,-1.7 27.7,6.5" stroke="#a08474" stroke-width="0.7" fill="none" opacity="0.5"/>
<path d="M30.8,-8.6 Q35.6,0 30.8,8.6" stroke="#33201a" stroke-width="1.1" fill="none" opacity="0.55"/>
<path d="M32.1,-7.6 Q36.9,-1.7 32.1,6.6" stroke="#a08474" stroke-width="0.7" fill="none" opacity="0.5"/>
<path d="M35.2,-8.6 Q40.0,0 35.2,8.6" stroke="#33201a" stroke-width="1.1" fill="none" opacity="0.55"/>
<path d="M36.5,-7.6 Q41.3,-1.7 36.5,6.6" stroke="#a08474" stroke-width="0.7" fill="none" opacity="0.5"/>
<path d="M39.6,-8.6 Q44.4,0 39.6,8.6" stroke="#33201a" stroke-width="1.1" fill="none" opacity="0.55"/>
<path d="M40.9,-7.6 Q45.7,-1.7 40.9,6.6" stroke="#a08474" stroke-width="0.7" fill="none" opacity="0.5"/>
<path d="M44.0,-8.7 Q48.9,0 44.0,8.7" stroke="#33201a" stroke-width="1.1" fill="none" opacity="0.55"/>
<path d="M45.3,-7.7 Q50.2,-1.7 45.3,6.7" stroke="#a08474" stroke-width="0.7" fill="none" opacity="0.5"/>
<path d="M48.4,-8.7 Q53.3,0 48.4,8.7" stroke="#33201a" stroke-width="1.1" fill="none" opacity="0.55"/>
<path d="M49.7,-7.7 Q54.6,-1.7 49.7,6.7" stroke="#a08474" stroke-width="0.7" fill="none" opacity="0.5"/>
<path d="M52.8,-8.8 Q57.7,0 52.8,8.8" stroke="#33201a" stroke-width="1.1" fill="none" opacity="0.55"/>
<path d="M54.1,-7.8 Q59.0,-1.8 54.1,6.8" stroke="#a08474" stroke-width="0.7" fill="none" opacity="0.5"/>
<path d="M57.2,-8.8 Q62.1,0 57.2,8.8" stroke="#33201a" stroke-width="1.1" fill="none" opacity="0.55"/>
<path d="M58.5,-7.8 Q63.4,-1.8 58.5,6.8" stroke="#a08474" stroke-width="0.7" fill="none" opacity="0.5"/>
<path d="M61.6,-8.9 Q66.6,0 61.6,8.9" stroke="#33201a" stroke-width="1.1" fill="none" opacity="0.55"/>
<path d="M62.9,-7.9 Q67.9,-1.8 62.9,6.9" stroke="#a08474" stroke-width="0.7" fill="none" opacity="0.5"/>
<path d="M66.0,-8.9 Q71.0,0 66.0,8.9" stroke="#33201a" stroke-width="1.1" fill="none" opacity="0.55"/>
<path d="M67.3,-7.9 Q72.3,-1.8 67.3,6.9" stroke="#a08474" stroke-width="0.7" fill="none" opacity="0.5"/>
<path d="M70.4,-9.0 Q75.4,0 70.4,9.0" stroke="#33201a" stroke-width="1.1" fill="none" opacity="0.55"/>
<path d="M71.7,-8.0 Q76.7,-1.8 71.7,7.0" stroke="#a08474" stroke-width="0.7" fill="none" opacity="0.5"/>
</g>
<g transform="translate(277.3,247.7) rotate(0)">
<ellipse cx="0" cy="0" rx="18" ry="3.7" fill="none" stroke="#222" stroke-width="1.4"/>
</g>
<rect x="268.0" y="243" width="19" height="35" fill="url(#brV)"/>
<ellipse cx="277.5" cy="246.5" rx="12.5" ry="2.20" fill="url(#shed)"/>
<ellipse cx="277.0" cy="245.7" rx="8.8" ry="0.99" fill="#7a5e50" opacity="0.35"/>
<ellipse cx="277.5" cy="251.5" rx="12.5" ry="2.20" fill="url(#shed)"/>
<ellipse cx="277.0" cy="250.7" rx="8.8" ry="0.99" fill="#7a5e50" opacity="0.35"/>
<ellipse cx="277.5" cy="256.5" rx="12.5" ry="2.20" fill="url(#shed)"/>
<ellipse cx="277.0" cy="255.7" rx="8.8" ry="0.99" fill="#7a5e50" opacity="0.35"/>
<ellipse cx="277.5" cy="261.5" rx="12.5" ry="2.20" fill="url(#shed)"/>
<ellipse cx="277.0" cy="260.7" rx="8.8" ry="0.99" fill="#7a5e50" opacity="0.35"/>
<ellipse cx="277.5" cy="266.5" rx="12.5" ry="2.20" fill="url(#shed)"/>
<ellipse cx="277.0" cy="265.7" rx="8.8" ry="0.99" fill="#7a5e50" opacity="0.35"/>
<ellipse cx="277.5" cy="271.5" rx="12.5" ry="2.20" fill="url(#shed)"/>
<ellipse cx="277.0" cy="270.7" rx="8.8" ry="0.99" fill="#7a5e50" opacity="0.35"/>
<ellipse cx="277.5" cy="276.5" rx="12.5" ry="2.20" fill="url(#shed)"/>
<ellipse cx="277.0" cy="275.7" rx="8.8" ry="0.99" fill="#7a5e50" opacity="0.35"/>
<rect x="269.0" y="287" width="17" height="55.5" fill="url(#brV)"/>
<ellipse cx="277.5" cy="290.1" rx="12.5" ry="1.80" fill="url(#shed)"/>
<ellipse cx="277.0" cy="289.4" rx="8.8" ry="0.81" fill="#7a5e50" opacity="0.35"/>
<ellipse cx="277.5" cy="294.5" rx="12.5" ry="1.80" fill="url(#shed)"/>
<ellipse cx="277.0" cy="293.8" rx="8.8" ry="0.81" fill="#7a5e50" opacity="0.35"/>
<ellipse cx="277.5" cy="298.9" rx="12.5" ry="1.80" fill="url(#shed)"/>
<ellipse cx="277.0" cy="298.2" rx="8.8" ry="0.81" fill="#7a5e50" opacity="0.35"/>
<ellipse cx="277.5" cy="303.3" rx="12.5" ry="1.80" fill="url(#shed)"/>
<ellipse cx="277.0" cy="302.6" rx="8.8" ry="0.81" fill="#7a5e50" opacity="0.35"/>
<ellipse cx="277.5" cy="307.7" rx="12.5" ry="1.80" fill="url(#shed)"/>
<ellipse cx="277.0" cy="307.0" rx="8.8" ry="0.81" fill="#7a5e50" opacity="0.35"/>
<ellipse cx="277.5" cy="312.1" rx="12.5" ry="1.80" fill="url(#shed)"/>
<ellipse cx="277.0" cy="311.4" rx="8.8" ry="0.81" fill="#7a5e50" opacity="0.35"/>
<ellipse cx="277.5" cy="316.5" rx="12.5" ry="1.80" fill="url(#shed)"/>
<ellipse cx="277.0" cy="315.8" rx="8.8" ry="0.81" fill="#7a5e50" opacity="0.35"/>
<ellipse cx="277.5" cy="320.9" rx="12.5" ry="1.80" fill="url(#shed)"/>
<ellipse cx="277.0" cy="320.2" rx="8.8" ry="0.81" fill="#7a5e50" opacity="0.35"/>
<ellipse cx="277.5" cy="325.3" rx="12.5" ry="1.80" fill="url(#shed)"/>
<ellipse cx="277.0" cy="324.6" rx="8.8" ry="0.81" fill="#7a5e50" opacity="0.35"/>
<ellipse cx="277.5" cy="329.7" rx="12.5" ry="1.80" fill="url(#shed)"/>
<ellipse cx="277.0" cy="329.0" rx="8.8" ry="0.81" fill="#7a5e50" opacity="0.35"/>
<ellipse cx="277.5" cy="334.1" rx="12.5" ry="1.80" fill="url(#shed)"/>
<ellipse cx="277.0" cy="333.4" rx="8.8" ry="0.81" fill="#7a5e50" opacity="0.35"/>
<ellipse cx="277.5" cy="338.5" rx="12.5" ry="1.80" fill="url(#shed)"/>
<ellipse cx="277.0" cy="337.8" rx="8.8" ry="0.81" fill="#7a5e50" opacity="0.35"/>
<rect x="272.0" y="353" width="11" height="45.60000000000002" fill="url(#brV)"/>
<ellipse cx="277.5" cy="354.6" rx="12.0" ry="1.10" fill="url(#shed)"/>
<ellipse cx="277.0" cy="354.2" rx="8.4" ry="0.50" fill="#7a5e50" opacity="0.35"/>
<ellipse cx="277.5" cy="356.9" rx="9.0" ry="1.10" fill="url(#shed)"/>
<ellipse cx="277.0" cy="356.5" rx="6.3" ry="0.50" fill="#7a5e50" opacity="0.35"/>
<ellipse cx="277.5" cy="359.2" rx="12.0" ry="1.10" fill="url(#shed)"/>
<ellipse cx="277.0" cy="358.8" rx="8.4" ry="0.50" fill="#7a5e50" opacity="0.35"/>
<ellipse cx="277.5" cy="361.5" rx="9.0" ry="1.10" fill="url(#shed)"/>
<ellipse cx="277.0" cy="361.1" rx="6.3" ry="0.50" fill="#7a5e50" opacity="0.35"/>
<ellipse cx="277.5" cy="363.8" rx="12.0" ry="1.10" fill="url(#shed)"/>
<ellipse cx="277.0" cy="363.4" rx="8.4" ry="0.50" fill="#7a5e50" opacity="0.35"/>
<ellipse cx="277.5" cy="366.1" rx="9.0" ry="1.10" fill="url(#shed)"/>
<ellipse cx="277.0" cy="365.7" rx="6.3" ry="0.50" fill="#7a5e50" opacity="0.35"/>
<ellipse cx="277.5" cy="368.4" rx="12.0" ry="1.10" fill="url(#shed)"/>
<ellipse cx="277.0" cy="368.0" rx="8.4" ry="0.50" fill="#7a5e50" opacity="0.35"/>
<ellipse cx="277.5" cy="370.7" rx="9.0" ry="1.10" fill="url(#shed)"/>
<ellipse cx="277.0" cy="370.3" rx="6.3" ry="0.50" fill="#7a5e50" opacity="0.35"/>
<ellipse cx="277.5" cy="373.0" rx="12.0" ry="1.10" fill="url(#shed)"/>
<ellipse cx="277.0" cy="372.6" rx="8.4" ry="0.50" fill="#7a5e50" opacity="0.35"/>
<ellipse cx="277.5" cy="375.3" rx="9.0" ry="1.10" fill="url(#shed)"/>
<ellipse cx="277.0" cy="374.9" rx="6.3" ry="0.50" fill="#7a5e50" opacity="0.35"/>
<ellipse cx="277.5" cy="377.6" rx="12.0" ry="1.10" fill="url(#shed)"/>
<ellipse cx="277.0" cy="377.2" rx="8.4" ry="0.50" fill="#7a5e50" opacity="0.35"/>
<ellipse cx="277.5" cy="379.9" rx="9.0" ry="1.10" fill="url(#shed)"/>
<ellipse cx="277.0" cy="379.5" rx="6.3" ry="0.50" fill="#7a5e50" opacity="0.35"/>
<ellipse cx="277.5" cy="382.2" rx="12.0" ry="1.10" fill="url(#shed)"/>
<ellipse cx="277.0" cy="381.8" rx="8.4" ry="0.50" fill="#7a5e50" opacity="0.35"/>
<ellipse cx="277.5" cy="384.5" rx="9.0" ry="1.10" fill="url(#shed)"/>
<ellipse cx="277.0" cy="384.1" rx="6.3" ry="0.50" fill="#7a5e50" opacity="0.35"/>
<ellipse cx="277.5" cy="386.8" rx="12.0" ry="1.10" fill="url(#shed)"/>
<ellipse cx="277.0" cy="386.4" rx="8.4" ry="0.50" fill="#7a5e50" opacity="0.35"/>
<ellipse cx="277.5" cy="389.1" rx="9.0" ry="1.10" fill="url(#shed)"/>
<ellipse cx="277.0" cy="388.7" rx="6.3" ry="0.50" fill="#7a5e50" opacity="0.35"/>
<ellipse cx="277.5" cy="391.4" rx="12.0" ry="1.10" fill="url(#shed)"/>
<ellipse cx="277.0" cy="391.0" rx="8.4" ry="0.50" fill="#7a5e50" opacity="0.35"/>
<ellipse cx="277.5" cy="393.7" rx="9.0" ry="1.10" fill="url(#shed)"/>
<ellipse cx="277.0" cy="393.3" rx="6.3" ry="0.50" fill="#7a5e50" opacity="0.35"/>
<ellipse cx="277.5" cy="396.0" rx="12.0" ry="1.10" fill="url(#shed)"/>
<ellipse cx="277.0" cy="395.6" rx="8.4" ry="0.50" fill="#7a5e50" opacity="0.35"/>
<rect x="266.5" y="277.4" width="20" height="11.100000000000023" rx="1.5" fill="url(#silV)"/>
<ellipse cx="276.5" cy="282.9" rx="11.8" ry="2.2" fill="url(#silV)" stroke="#1e1e1c" stroke-width="0.9"/>
<rect x="267.5" y="284.6" width="18" height="4.0" rx="1" fill="url(#silV)"/>
<rect x="268.0" y="342" width="19" height="12" rx="1.5" fill="url(#silV)"/>
<ellipse cx="277.5" cy="348.0" rx="13.5" ry="2.2" fill="url(#silV)" stroke="#1e1e1c" stroke-width="0.9"/>
<rect x="269.0" y="349.6" width="17" height="4.4" rx="1" fill="url(#silV)"/>
<rect x="267.5" y="397.5" width="19.5" height="4.5" rx="1" fill="url(#silV)"/>
<g transform="translate(177.0,212.0) rotate(8.51)">
<polygon points="0,-10.5 85.4,-9.0 85.4,9.0 0,10.5" fill="url(#brArm)"/>
<circle cx="2.1" cy="-10.2" r="1.51" fill="#3e2a20"/>
<circle cx="2.1" cy="10.2" r="1.51" fill="#21140d"/>
<circle cx="6.3" cy="-10.1" r="1.51" fill="#3e2a20"/>
<circle cx="6.3" cy="10.1" r="1.51" fill="#21140d"/>
<circle cx="10.5" cy="-10.0" r="1.51" fill="#3e2a20"/>
<circle cx="10.5" cy="10.0" r="1.51" fill="#21140d"/>
<circle cx="14.7" cy="-9.9" r="1.51" fill="#3e2a20"/>
<circle cx="14.7" cy="9.9" r="1.51" fill="#21140d"/>
<circle cx="18.9" cy="-9.9" r="1.51" fill="#3e2a20"/>
<circle cx="18.9" cy="9.9" r="1.51" fill="#21140d"/>
<circle cx="23.1" cy="-9.8" r="1.51" fill="#3e2a20"/>
<circle cx="23.1" cy="9.8" r="1.51" fill="#21140d"/>
<circle cx="27.3" cy="-9.7" r="1.51" fill="#3e2a20"/>
<circle cx="27.3" cy="9.7" r="1.51" fill="#21140d"/>
<circle cx="31.5" cy="-9.6" r="1.51" fill="#3e2a20"/>
<circle cx="31.5" cy="9.6" r="1.51" fill="#21140d"/>
<circle cx="35.7" cy="-9.6" r="1.51" fill="#3e2a20"/>
<circle cx="35.7" cy="9.6" r="1.51" fill="#21140d"/>
<circle cx="39.9" cy="-9.5" r="1.51" fill="#3e2a20"/>
<circle cx="39.9" cy="9.5" r="1.51" fill="#21140d"/>
<circle cx="44.1" cy="-9.4" r="1.51" fill="#3e2a20"/>
<circle cx="44.1" cy="9.4" r="1.51" fill="#21140d"/>
<circle cx="48.3" cy="-9.3" r="1.51" fill="#3e2a20"/>
<circle cx="48.3" cy="9.3" r="1.51" fill="#21140d"/>
<circle cx="52.5" cy="-9.2" r="1.51" fill="#3e2a20"/>
<circle cx="52.5" cy="9.2" r="1.51" fill="#21140d"/>
<circle cx="56.7" cy="-9.2" r="1.51" fill="#3e2a20"/>
<circle cx="56.7" cy="9.2" r="1.51" fill="#21140d"/>
<circle cx="60.9" cy="-9.1" r="1.51" fill="#3e2a20"/>
<circle cx="60.9" cy="9.1" r="1.51" fill="#21140d"/>
<circle cx="65.1" cy="-9.0" r="1.51" fill="#3e2a20"/>
<circle cx="65.1" cy="9.0" r="1.51" fill="#21140d"/>
<circle cx="69.3" cy="-8.9" r="1.51" fill="#3e2a20"/>
<circle cx="69.3" cy="8.9" r="1.51" fill="#21140d"/>
<circle cx="73.5" cy="-8.9" r="1.51" fill="#3e2a20"/>
<circle cx="73.5" cy="8.9" r="1.51" fill="#21140d"/>
<circle cx="77.7" cy="-8.8" r="1.51" fill="#3e2a20"/>
<circle cx="77.7" cy="8.8" r="1.51" fill="#21140d"/>
<circle cx="81.9" cy="-8.7" r="1.51" fill="#3e2a20"/>
<circle cx="81.9" cy="8.7" r="1.51" fill="#21140d"/>
<polygon points="0,-9.7 85.4,-8.2 85.4,8.2 0,9.7" fill="url(#brArm)"/>
<path d="M0.0,-10.5 Q5.9,0 0.0,10.5" stroke="#33201a" stroke-width="1.1" fill="none" opacity="0.55"/>
<path d="M1.3,-9.5 Q7.2,-2.1 1.3,8.5" stroke="#a08474" stroke-width="0.7" fill="none" opacity="0.5"/>
<path d="M4.2,-10.4 Q10.0,0 4.2,10.4" stroke="#33201a" stroke-width="1.1" fill="none" opacity="0.55"/>
<path d="M5.5,-9.4 Q11.3,-2.1 5.5,8.4" stroke="#a08474" stroke-width="0.7" fill="none" opacity="0.5"/>
<path d="M8.4,-10.3 Q14.2,0 8.4,10.3" stroke="#33201a" stroke-width="1.1" fill="none" opacity="0.55"/>
<path d="M9.7,-9.3 Q15.5,-2.1 9.7,8.3" stroke="#a08474" stroke-width="0.7" fill="none" opacity="0.5"/>
<path d="M12.6,-10.3 Q18.4,0 12.6,10.3" stroke="#33201a" stroke-width="1.1" fill="none" opacity="0.55"/>
<path d="M13.9,-9.3 Q19.7,-2.1 13.9,8.3" stroke="#a08474" stroke-width="0.7" fill="none" opacity="0.5"/>
<path d="M16.8,-10.2 Q22.5,0 16.8,10.2" stroke="#33201a" stroke-width="1.1" fill="none" opacity="0.55"/>
<path d="M18.1,-9.2 Q23.8,-2.0 18.1,8.2" stroke="#a08474" stroke-width="0.7" fill="none" opacity="0.5"/>
<path d="M21.0,-10.1 Q26.7,0 21.0,10.1" stroke="#33201a" stroke-width="1.1" fill="none" opacity="0.55"/>
<path d="M22.3,-9.1 Q28.0,-2.0 22.3,8.1" stroke="#a08474" stroke-width="0.7" fill="none" opacity="0.5"/>
<path d="M25.2,-10.0 Q30.8,0 25.2,10.0" stroke="#33201a" stroke-width="1.1" fill="none" opacity="0.55"/>
<path d="M26.5,-9.0 Q32.1,-2.0 26.5,8.0" stroke="#a08474" stroke-width="0.7" fill="none" opacity="0.5"/>
<path d="M29.4,-10.0 Q35.0,0 29.4,10.0" stroke="#33201a" stroke-width="1.1" fill="none" opacity="0.55"/>
<path d="M30.7,-9.0 Q36.3,-2.0 30.7,8.0" stroke="#a08474" stroke-width="0.7" fill="none" opacity="0.5"/>
<path d="M33.6,-9.9 Q39.1,0 33.6,9.9" stroke="#33201a" stroke-width="1.1" fill="none" opacity="0.55"/>
<path d="M34.9,-8.9 Q40.4,-2.0 34.9,7.9" stroke="#a08474" stroke-width="0.7" fill="none" opacity="0.5"/>
<path d="M37.8,-9.8 Q43.3,0 37.8,9.8" stroke="#33201a" stroke-width="1.1" fill="none" opacity="0.55"/>
<path d="M39.1,-8.8 Q44.6,-2.0 39.1,7.8" stroke="#a08474" stroke-width="0.7" fill="none" opacity="0.5"/>
<path d="M42.0,-9.7 Q47.5,0 42.0,9.7" stroke="#33201a" stroke-width="1.1" fill="none" opacity="0.55"/>
<path d="M43.3,-8.7 Q48.8,-1.9 43.3,7.7" stroke="#a08474" stroke-width="0.7" fill="none" opacity="0.5"/>
<path d="M46.2,-9.7 Q51.6,0 46.2,9.7" stroke="#33201a" stroke-width="1.1" fill="none" opacity="0.55"/>
<path d="M47.5,-8.7 Q52.9,-1.9 47.5,7.7" stroke="#a08474" stroke-width="0.7" fill="none" opacity="0.5"/>
<path d="M50.4,-9.6 Q55.8,0 50.4,9.6" stroke="#33201a" stroke-width="1.1" fill="none" opacity="0.55"/>
<path d="M51.7,-8.6 Q57.1,-1.9 51.7,7.6" stroke="#a08474" stroke-width="0.7" fill="none" opacity="0.5"/>
<path d="M54.6,-9.5 Q59.9,0 54.6,9.5" stroke="#33201a" stroke-width="1.1" fill="none" opacity="0.55"/>
<path d="M55.9,-8.5 Q61.2,-1.9 55.9,7.5" stroke="#a08474" stroke-width="0.7" fill="none" opacity="0.5"/>
<path d="M58.8,-9.4 Q64.1,0 58.8,9.4" stroke="#33201a" stroke-width="1.1" fill="none" opacity="0.55"/>
<path d="M60.1,-8.4 Q65.4,-1.9 60.1,7.4" stroke="#a08474" stroke-width="0.7" fill="none" opacity="0.5"/>
<path d="M63.0,-9.4 Q68.2,0 63.0,9.4" stroke="#33201a" stroke-width="1.1" fill="none" opacity="0.55"/>
<path d="M64.3,-8.4 Q69.5,-1.9 64.3,7.4" stroke="#a08474" stroke-width="0.7" fill="none" opacity="0.5"/>
<path d="M67.2,-9.3 Q72.4,0 67.2,9.3" stroke="#33201a" stroke-width="1.1" fill="none" opacity="0.55"/>
<path d="M68.5,-8.3 Q73.7,-1.9 68.5,7.3" stroke="#a08474" stroke-width="0.7" fill="none" opacity="0.5"/>
<path d="M71.4,-9.2 Q76.6,0 71.4,9.2" stroke="#33201a" stroke-width="1.1" fill="none" opacity="0.55"/>
<path d="M72.7,-8.2 Q77.9,-1.8 72.7,7.2" stroke="#a08474" stroke-width="0.7" fill="none" opacity="0.5"/>
<path d="M75.6,-9.1 Q80.7,0 75.6,9.1" stroke="#33201a" stroke-width="1.1" fill="none" opacity="0.55"/>
<path d="M76.9,-8.1 Q82.0,-1.8 76.9,7.1" stroke="#a08474" stroke-width="0.7" fill="none" opacity="0.5"/>
<path d="M79.8,-9.1 Q84.9,0 79.8,9.1" stroke="#33201a" stroke-width="1.1" fill="none" opacity="0.55"/>
<path d="M81.1,-8.1 Q86.2,-1.8 81.1,7.1" stroke="#a08474" stroke-width="0.7" fill="none" opacity="0.5"/>
<path d="M84.0,-9.0 Q89.0,0 84.0,9.0" stroke="#33201a" stroke-width="1.1" fill="none" opacity="0.55"/>
<path d="M85.3,-8.0 Q90.3,-1.8 85.3,7.0" stroke="#a08474" stroke-width="0.7" fill="none" opacity="0.5"/>
</g>
<rect x="165.5" y="202.5" width="12.5" height="18.0" rx="4.4" fill="url(#silH)"/>
<rect x="165.5" y="203.6" width="3.8" height="15.8" rx="1.9" fill="#5e605e" opacity="0.55"/>
<g transform="translate(162,207.5) rotate(10)">
<ellipse cx="0" cy="0" rx="4.5" ry="12" fill="none" stroke="#3a3c3c" stroke-width="1.2"/>
<line x1="-4.0" y1="5.4" x2="5.4" y2="5.4" stroke="#777" stroke-width="0.8"/>
<line x1="-0.9" y1="-9.6" x2="7.2" y2="-1.2" stroke="#777" stroke-width="0.8"/>
</g>
<g transform="translate(262.7,224.7) rotate(9.57)">
<polygon points="0,-7.3 35.5,-8.2 35.5,8.2 0,7.3" fill="url(#silArm)"/>
<path d="M7.8,-7.5 Q11.6,0 7.8,7.5" stroke="#5a5c5a" stroke-width="0.8" fill="none" opacity="0.8"/>
<path d="M27.7,-8.1 Q31.7,0 27.7,8.1" stroke="#5a5c5a" stroke-width="0.8" fill="none" opacity="0.8"/>
</g>
<rect x="270" y="232.6" width="16.5" height="10.4" fill="url(#silV)"/>
<path d="M270,233.0 Q270,227.7 278.2,227.7 Q286.5,227.7 286.5,233.0 Z" fill="url(#silV)"/>
<rect x="269.5" y="238.9" width="17.5" height="4.1" rx="1" fill="url(#silV)" stroke="#555" stroke-width="0.4"/>
<polygon points="243,128 354,152 354,168.6 243,146.4" fill="#4e2f22"/>
<g transform="translate(243.0,139.2) rotate(11.76)">
<polygon points="0,-7.2 113.4,-6.3 113.4,6.3 0,7.2" fill="url(#brArm)"/>
<circle cx="2.5" cy="-6.9" r="1.80" fill="#3e2a20"/>
<circle cx="2.5" cy="6.9" r="1.80" fill="#21140d"/>
<circle cx="7.5" cy="-6.8" r="1.80" fill="#3e2a20"/>
<circle cx="7.5" cy="6.8" r="1.80" fill="#21140d"/>
<circle cx="12.5" cy="-6.8" r="1.80" fill="#3e2a20"/>
<circle cx="12.5" cy="6.8" r="1.80" fill="#21140d"/>
<circle cx="17.5" cy="-6.8" r="1.80" fill="#3e2a20"/>
<circle cx="17.5" cy="6.8" r="1.80" fill="#21140d"/>
<circle cx="22.5" cy="-6.7" r="1.80" fill="#3e2a20"/>
<circle cx="22.5" cy="6.7" r="1.80" fill="#21140d"/>
<circle cx="27.5" cy="-6.7" r="1.80" fill="#3e2a20"/>
<circle cx="27.5" cy="6.7" r="1.80" fill="#21140d"/>
<circle cx="32.5" cy="-6.6" r="1.80" fill="#3e2a20"/>
<circle cx="32.5" cy="6.6" r="1.80" fill="#21140d"/>
<circle cx="37.5" cy="-6.6" r="1.80" fill="#3e2a20"/>
<circle cx="37.5" cy="6.6" r="1.80" fill="#21140d"/>
<circle cx="42.5" cy="-6.6" r="1.80" fill="#3e2a20"/>
<circle cx="42.5" cy="6.6" r="1.80" fill="#21140d"/>
<circle cx="47.5" cy="-6.5" r="1.80" fill="#3e2a20"/>
<circle cx="47.5" cy="6.5" r="1.80" fill="#21140d"/>
<circle cx="52.5" cy="-6.5" r="1.80" fill="#3e2a20"/>
<circle cx="52.5" cy="6.5" r="1.80" fill="#21140d"/>
<circle cx="57.5" cy="-6.4" r="1.80" fill="#3e2a20"/>
<circle cx="57.5" cy="6.4" r="1.80" fill="#21140d"/>
<circle cx="62.5" cy="-6.4" r="1.80" fill="#3e2a20"/>
<circle cx="62.5" cy="6.4" r="1.80" fill="#21140d"/>
<circle cx="67.5" cy="-6.4" r="1.80" fill="#3e2a20"/>
<circle cx="67.5" cy="6.4" r="1.80" fill="#21140d"/>
<circle cx="72.5" cy="-6.3" r="1.80" fill="#3e2a20"/>
<circle cx="72.5" cy="6.3" r="1.80" fill="#21140d"/>
<circle cx="77.5" cy="-6.3" r="1.80" fill="#3e2a20"/>
<circle cx="77.5" cy="6.3" r="1.80" fill="#21140d"/>
<circle cx="82.5" cy="-6.2" r="1.80" fill="#3e2a20"/>
<circle cx="82.5" cy="6.2" r="1.80" fill="#21140d"/>
<circle cx="87.5" cy="-6.2" r="1.80" fill="#3e2a20"/>
<circle cx="87.5" cy="6.2" r="1.80" fill="#21140d"/>
<circle cx="92.5" cy="-6.2" r="1.80" fill="#3e2a20"/>
<circle cx="92.5" cy="6.2" r="1.80" fill="#21140d"/>
<circle cx="97.5" cy="-6.1" r="1.80" fill="#3e2a20"/>
<circle cx="97.5" cy="6.1" r="1.80" fill="#21140d"/>
<circle cx="102.5" cy="-6.1" r="1.80" fill="#3e2a20"/>
<circle cx="102.5" cy="6.1" r="1.80" fill="#21140d"/>
<circle cx="107.5" cy="-6.0" r="1.80" fill="#3e2a20"/>
<circle cx="107.5" cy="6.0" r="1.80" fill="#21140d"/>
<polygon points="0,-6.4 113.4,-5.5 113.4,5.5 0,6.4" fill="url(#brArm)"/>
<path d="M0.0,-7.2 Q4.0,0 0.0,7.2" stroke="#33201a" stroke-width="1.1" fill="none" opacity="0.55"/>
<path d="M1.3,-6.2 Q5.3,-1.4 1.3,5.2" stroke="#a08474" stroke-width="0.7" fill="none" opacity="0.5"/>
<path d="M5.0,-7.2 Q9.0,0 5.0,7.2" stroke="#33201a" stroke-width="1.1" fill="none" opacity="0.55"/>
<path d="M6.3,-6.2 Q10.3,-1.4 6.3,5.2" stroke="#a08474" stroke-width="0.7" fill="none" opacity="0.5"/>
<path d="M10.0,-7.1 Q14.0,0 10.0,7.1" stroke="#33201a" stroke-width="1.1" fill="none" opacity="0.55"/>
<path d="M11.3,-6.1 Q15.3,-1.4 11.3,5.1" stroke="#a08474" stroke-width="0.7" fill="none" opacity="0.5"/>
<path d="M15.0,-7.1 Q19.0,0 15.0,7.1" stroke="#33201a" stroke-width="1.1" fill="none" opacity="0.55"/>
<path d="M16.3,-6.1 Q20.3,-1.4 16.3,5.1" stroke="#a08474" stroke-width="0.7" fill="none" opacity="0.5"/>
<path d="M20.0,-7.0 Q23.9,0 20.0,7.0" stroke="#33201a" stroke-width="1.1" fill="none" opacity="0.55"/>
<path d="M21.3,-6.0 Q25.2,-1.4 21.3,5.0" stroke="#a08474" stroke-width="0.7" fill="none" opacity="0.5"/>
<path d="M25.0,-7.0 Q28.9,0 25.0,7.0" stroke="#33201a" stroke-width="1.1" fill="none" opacity="0.55"/>
<path d="M26.3,-6.0 Q30.2,-1.4 26.3,5.0" stroke="#a08474" stroke-width="0.7" fill="none" opacity="0.5"/>
<path d="M30.0,-7.0 Q33.9,0 30.0,7.0" stroke="#33201a" stroke-width="1.1" fill="none" opacity="0.55"/>
<path d="M31.3,-6.0 Q35.2,-1.4 31.3,5.0" stroke="#a08474" stroke-width="0.7" fill="none" opacity="0.5"/>
<path d="M35.0,-6.9 Q38.9,0 35.0,6.9" stroke="#33201a" stroke-width="1.1" fill="none" opacity="0.55"/>
<path d="M36.3,-5.9 Q40.2,-1.4 36.3,4.9" stroke="#a08474" stroke-width="0.7" fill="none" opacity="0.5"/>
<path d="M40.0,-6.9 Q43.9,0 40.0,6.9" stroke="#33201a" stroke-width="1.1" fill="none" opacity="0.55"/>
<path d="M41.3,-5.9 Q45.2,-1.4 41.3,4.9" stroke="#a08474" stroke-width="0.7" fill="none" opacity="0.5"/>
<path d="M45.0,-6.8 Q48.8,0 45.0,6.8" stroke="#33201a" stroke-width="1.1" fill="none" opacity="0.55"/>
<path d="M46.3,-5.8 Q50.1,-1.4 46.3,4.8" stroke="#a08474" stroke-width="0.7" fill="none" opacity="0.5"/>
<path d="M50.0,-6.8 Q53.8,0 50.0,6.8" stroke="#33201a" stroke-width="1.1" fill="none" opacity="0.55"/>
<path d="M51.3,-5.8 Q55.1,-1.4 51.3,4.8" stroke="#a08474" stroke-width="0.7" fill="none" opacity="0.5"/>
<path d="M55.0,-6.8 Q58.8,0 55.0,6.8" stroke="#33201a" stroke-width="1.1" fill="none" opacity="0.55"/>
<path d="M56.3,-5.8 Q60.1,-1.4 56.3,4.8" stroke="#a08474" stroke-width="0.7" fill="none" opacity="0.5"/>
<path d="M60.0,-6.7 Q63.8,0 60.0,6.7" stroke="#33201a" stroke-width="1.1" fill="none" opacity="0.55"/>
<path d="M61.3,-5.7 Q65.1,-1.3 61.3,4.7" stroke="#a08474" stroke-width="0.7" fill="none" opacity="0.5"/>
<path d="M65.0,-6.7 Q68.7,0 65.0,6.7" stroke="#33201a" stroke-width="1.1" fill="none" opacity="0.55"/>
<path d="M66.3,-5.7 Q70.0,-1.3 66.3,4.7" stroke="#a08474" stroke-width="0.7" fill="none" opacity="0.5"/>
<path d="M70.0,-6.6 Q73.7,0 70.0,6.6" stroke="#33201a" stroke-width="1.1" fill="none" opacity="0.55"/>
<path d="M71.3,-5.6 Q75.0,-1.3 71.3,4.6" stroke="#a08474" stroke-width="0.7" fill="none" opacity="0.5"/>
<path d="M75.0,-6.6 Q78.7,0 75.0,6.6" stroke="#33201a" stroke-width="1.1" fill="none" opacity="0.55"/>
<path d="M76.3,-5.6 Q80.0,-1.3 76.3,4.6" stroke="#a08474" stroke-width="0.7" fill="none" opacity="0.5"/>
<path d="M80.0,-6.6 Q83.7,0 80.0,6.6" stroke="#33201a" stroke-width="1.1" fill="none" opacity="0.55"/>
<path d="M81.3,-5.6 Q85.0,-1.3 81.3,4.6" stroke="#a08474" stroke-width="0.7" fill="none" opacity="0.5"/>
<path d="M85.0,-6.5 Q88.7,0 85.0,6.5" stroke="#33201a" stroke-width="1.1" fill="none" opacity="0.55"/>
<path d="M86.3,-5.5 Q90.0,-1.3 86.3,4.5" stroke="#a08474" stroke-width="0.7" fill="none" opacity="0.5"/>
<path d="M90.0,-6.5 Q93.6,0 90.0,6.5" stroke="#33201a" stroke-width="1.1" fill="none" opacity="0.55"/>
<path d="M91.3,-5.5 Q94.9,-1.3 91.3,4.5" stroke="#a08474" stroke-width="0.7" fill="none" opacity="0.5"/>
<path d="M95.0,-6.4 Q98.6,0 95.0,6.4" stroke="#33201a" stroke-width="1.1" fill="none" opacity="0.55"/>
<path d="M96.3,-5.4 Q99.9,-1.3 96.3,4.4" stroke="#a08474" stroke-width="0.7" fill="none" opacity="0.5"/>
<path d="M100.0,-6.4 Q103.6,0 100.0,6.4" stroke="#33201a" stroke-width="1.1" fill="none" opacity="0.55"/>
<path d="M101.3,-5.4 Q104.9,-1.3 101.3,4.4" stroke="#a08474" stroke-width="0.7" fill="none" opacity="0.5"/>
<path d="M105.0,-6.4 Q108.6,0 105.0,6.4" stroke="#33201a" stroke-width="1.1" fill="none" opacity="0.55"/>
<path d="M106.3,-5.4 Q109.9,-1.3 106.3,4.4" stroke="#a08474" stroke-width="0.7" fill="none" opacity="0.5"/>
<path d="M110.0,-6.3 Q113.5,0 110.0,6.3" stroke="#33201a" stroke-width="1.1" fill="none" opacity="0.55"/>
<path d="M111.3,-5.3 Q114.8,-1.3 111.3,4.3" stroke="#a08474" stroke-width="0.7" fill="none" opacity="0.5"/>
</g>
<rect x="239.5" y="132.5" width="10.0" height="15.0" rx="3.5" fill="url(#silH)"/>
<rect x="239.5" y="133.4" width="3.0" height="13.2" rx="1.5" fill="#5e605e" opacity="0.55"/>
<g transform="translate(405.0,172.5) rotate(12.91)">
<polygon points="0,-12.5 73.9,-7.0 73.9,7.0 0,12.5" fill="url(#brArm)"/>
<circle cx="2.4" cy="-12.0" r="1.73" fill="#3e2a20"/>
<circle cx="2.4" cy="12.0" r="1.73" fill="#21140d"/>
<circle cx="7.2" cy="-11.7" r="1.73" fill="#3e2a20"/>
<circle cx="7.2" cy="11.7" r="1.73" fill="#21140d"/>
<circle cx="12.0" cy="-11.3" r="1.73" fill="#3e2a20"/>
<circle cx="12.0" cy="11.3" r="1.73" fill="#21140d"/>
<circle cx="16.8" cy="-10.9" r="1.73" fill="#3e2a20"/>
<circle cx="16.8" cy="10.9" r="1.73" fill="#21140d"/>
<circle cx="21.6" cy="-10.6" r="1.73" fill="#3e2a20"/>
<circle cx="21.6" cy="10.6" r="1.73" fill="#21140d"/>
<circle cx="26.4" cy="-10.2" r="1.73" fill="#3e2a20"/>
<circle cx="26.4" cy="10.2" r="1.73" fill="#21140d"/>
<circle cx="31.2" cy="-9.9" r="1.73" fill="#3e2a20"/>
<circle cx="31.2" cy="9.9" r="1.73" fill="#21140d"/>
<circle cx="36.0" cy="-9.5" r="1.73" fill="#3e2a20"/>
<circle cx="36.0" cy="9.5" r="1.73" fill="#21140d"/>
<circle cx="40.8" cy="-9.2" r="1.73" fill="#3e2a20"/>
<circle cx="40.8" cy="9.2" r="1.73" fill="#21140d"/>
<circle cx="45.6" cy="-8.8" r="1.73" fill="#3e2a20"/>
<circle cx="45.6" cy="8.8" r="1.73" fill="#21140d"/>
<circle cx="50.4" cy="-8.4" r="1.73" fill="#3e2a20"/>
<circle cx="50.4" cy="8.4" r="1.73" fill="#21140d"/>
<circle cx="55.2" cy="-8.1" r="1.73" fill="#3e2a20"/>
<circle cx="55.2" cy="8.1" r="1.73" fill="#21140d"/>
<circle cx="60.0" cy="-7.7" r="1.73" fill="#3e2a20"/>
<circle cx="60.0" cy="7.7" r="1.73" fill="#21140d"/>
<circle cx="64.8" cy="-7.4" r="1.73" fill="#3e2a20"/>
<circle cx="64.8" cy="7.4" r="1.73" fill="#21140d"/>
<circle cx="69.6" cy="-7.0" r="1.73" fill="#3e2a20"/>
<circle cx="69.6" cy="7.0" r="1.73" fill="#21140d"/>
<polygon points="0,-11.7 73.9,-6.2 73.9,6.2 0,11.7" fill="url(#brArm)"/>
<path d="M0.0,-12.5 Q7.0,0 0.0,12.5" stroke="#33201a" stroke-width="1.1" fill="none" opacity="0.55"/>
<path d="M1.3,-11.5 Q8.3,-2.5 1.3,10.5" stroke="#a08474" stroke-width="0.7" fill="none" opacity="0.5"/>
<path d="M4.8,-12.1 Q11.6,0 4.8,12.1" stroke="#33201a" stroke-width="1.1" fill="none" opacity="0.55"/>
<path d="M6.1,-11.1 Q12.9,-2.4 6.1,10.1" stroke="#a08474" stroke-width="0.7" fill="none" opacity="0.5"/>
<path d="M9.6,-11.8 Q16.2,0 9.6,11.8" stroke="#33201a" stroke-width="1.1" fill="none" opacity="0.55"/>
<path d="M10.9,-10.8 Q17.5,-2.4 10.9,9.8" stroke="#a08474" stroke-width="0.7" fill="none" opacity="0.5"/>
<path d="M14.4,-11.4 Q20.8,0 14.4,11.4" stroke="#33201a" stroke-width="1.1" fill="none" opacity="0.55"/>
<path d="M15.7,-10.4 Q22.1,-2.3 15.7,9.4" stroke="#a08474" stroke-width="0.7" fill="none" opacity="0.5"/>
<path d="M19.2,-11.1 Q25.4,0 19.2,11.1" stroke="#33201a" stroke-width="1.1" fill="none" opacity="0.55"/>
<path d="M20.5,-10.1 Q26.7,-2.2 20.5,9.1" stroke="#a08474" stroke-width="0.7" fill="none" opacity="0.5"/>
<path d="M24.0,-10.7 Q30.0,0 24.0,10.7" stroke="#33201a" stroke-width="1.1" fill="none" opacity="0.55"/>
<path d="M25.3,-9.7 Q31.3,-2.1 25.3,8.7" stroke="#a08474" stroke-width="0.7" fill="none" opacity="0.5"/>
<path d="M28.8,-10.4 Q34.6,0 28.8,10.4" stroke="#33201a" stroke-width="1.1" fill="none" opacity="0.55"/>
<path d="M30.1,-9.4 Q35.9,-2.1 30.1,8.4" stroke="#a08474" stroke-width="0.7" fill="none" opacity="0.5"/>
<path d="M33.6,-10.0 Q39.2,0 33.6,10.0" stroke="#33201a" stroke-width="1.1" fill="none" opacity="0.55"/>
<path d="M34.9,-9.0 Q40.5,-2.0 34.9,8.0" stroke="#a08474" stroke-width="0.7" fill="none" opacity="0.5"/>
<path d="M38.4,-9.6 Q43.8,0 38.4,9.6" stroke="#33201a" stroke-width="1.1" fill="none" opacity="0.55"/>
<path d="M39.7,-8.6 Q45.1,-1.9 39.7,7.6" stroke="#a08474" stroke-width="0.7" fill="none" opacity="0.5"/>
<path d="M43.2,-9.3 Q48.4,0 43.2,9.3" stroke="#33201a" stroke-width="1.1" fill="none" opacity="0.55"/>
<path d="M44.5,-8.3 Q49.7,-1.9 44.5,7.3" stroke="#a08474" stroke-width="0.7" fill="none" opacity="0.5"/>
<path d="M48.0,-8.9 Q53.0,0 48.0,8.9" stroke="#33201a" stroke-width="1.1" fill="none" opacity="0.55"/>
<path d="M49.3,-7.9 Q54.3,-1.8 49.3,6.9" stroke="#a08474" stroke-width="0.7" fill="none" opacity="0.5"/>
<path d="M52.8,-8.6 Q57.6,0 52.8,8.6" stroke="#33201a" stroke-width="1.1" fill="none" opacity="0.55"/>
<path d="M54.1,-7.6 Q58.9,-1.7 54.1,6.6" stroke="#a08474" stroke-width="0.7" fill="none" opacity="0.5"/>
<path d="M57.6,-8.2 Q62.2,0 57.6,8.2" stroke="#33201a" stroke-width="1.1" fill="none" opacity="0.55"/>
<path d="M58.9,-7.2 Q63.5,-1.6 58.9,6.2" stroke="#a08474" stroke-width="0.7" fill="none" opacity="0.5"/>
<path d="M62.4,-7.9 Q66.8,0 62.4,7.9" stroke="#33201a" stroke-width="1.1" fill="none" opacity="0.55"/>
<path d="M63.7,-6.9 Q68.1,-1.6 63.7,5.9" stroke="#a08474" stroke-width="0.7" fill="none" opacity="0.5"/>
<path d="M67.2,-7.5 Q71.4,0 67.2,7.5" stroke="#33201a" stroke-width="1.1" fill="none" opacity="0.55"/>
<path d="M68.5,-6.5 Q72.7,-1.5 68.5,5.5" stroke="#a08474" stroke-width="0.7" fill="none" opacity="0.5"/>
<path d="M72.0,-7.1 Q76.0,0 72.0,7.1" stroke="#33201a" stroke-width="1.1" fill="none" opacity="0.55"/>
<path d="M73.3,-6.1 Q77.3,-1.4 73.3,5.1" stroke="#a08474" stroke-width="0.7" fill="none" opacity="0.5"/>
</g>
<rect x="365.5" y="233.0" width="10.0" height="16.0" rx="3.5" fill="url(#silH)"/>
<rect x="372.5" y="234.0" width="3.0" height="14.1" rx="1.5" fill="#5e605e" opacity="0.55"/>
<g transform="translate(386.3,184.5) rotate(0)">
<ellipse cx="0" cy="0" rx="22" ry="6.5" fill="none" stroke="#222" stroke-width="1.3"/>
</g>
<rect x="375.0" y="178" width="24" height="52" fill="url(#brV)"/>
<ellipse cx="387.0" cy="182.3" rx="14.5" ry="3.00" fill="url(#shed)"/>
<ellipse cx="386.5" cy="181.3" rx="10.1" ry="1.35" fill="#7a5e50" opacity="0.35"/>
<ellipse cx="387.0" cy="188.5" rx="14.5" ry="3.00" fill="url(#shed)"/>
<ellipse cx="386.5" cy="187.5" rx="10.1" ry="1.35" fill="#7a5e50" opacity="0.35"/>
<ellipse cx="387.0" cy="194.7" rx="14.5" ry="3.00" fill="url(#shed)"/>
<ellipse cx="386.5" cy="193.7" rx="10.1" ry="1.35" fill="#7a5e50" opacity="0.35"/>
<ellipse cx="387.0" cy="200.9" rx="14.5" ry="3.00" fill="url(#shed)"/>
<ellipse cx="386.5" cy="199.9" rx="10.1" ry="1.35" fill="#7a5e50" opacity="0.35"/>
<ellipse cx="387.0" cy="207.1" rx="14.5" ry="3.00" fill="url(#shed)"/>
<ellipse cx="386.5" cy="206.1" rx="10.1" ry="1.35" fill="#7a5e50" opacity="0.35"/>
<ellipse cx="387.0" cy="213.3" rx="14.5" ry="3.00" fill="url(#shed)"/>
<ellipse cx="386.5" cy="212.3" rx="10.1" ry="1.35" fill="#7a5e50" opacity="0.35"/>
<ellipse cx="387.0" cy="219.5" rx="14.5" ry="3.00" fill="url(#shed)"/>
<ellipse cx="386.5" cy="218.5" rx="10.1" ry="1.35" fill="#7a5e50" opacity="0.35"/>
<ellipse cx="387.0" cy="225.7" rx="14.5" ry="3.00" fill="url(#shed)"/>
<ellipse cx="386.5" cy="224.7" rx="10.1" ry="1.35" fill="#7a5e50" opacity="0.35"/>
<rect x="376.2" y="243" width="21.5" height="71" fill="url(#brV)"/>
<ellipse cx="387.0" cy="247.3" rx="14.8" ry="2.80" fill="url(#shed)"/>
<ellipse cx="386.5" cy="246.4" rx="10.3" ry="1.26" fill="#7a5e50" opacity="0.35"/>
<ellipse cx="387.0" cy="253.5" rx="14.8" ry="2.80" fill="url(#shed)"/>
<ellipse cx="386.5" cy="252.6" rx="10.3" ry="1.26" fill="#7a5e50" opacity="0.35"/>
<ellipse cx="387.0" cy="259.7" rx="14.8" ry="2.80" fill="url(#shed)"/>
<ellipse cx="386.5" cy="258.8" rx="10.3" ry="1.26" fill="#7a5e50" opacity="0.35"/>
<ellipse cx="387.0" cy="265.9" rx="14.8" ry="2.80" fill="url(#shed)"/>
<ellipse cx="386.5" cy="265.0" rx="10.3" ry="1.26" fill="#7a5e50" opacity="0.35"/>
<ellipse cx="387.0" cy="272.1" rx="14.8" ry="2.80" fill="url(#shed)"/>
<ellipse cx="386.5" cy="271.2" rx="10.3" ry="1.26" fill="#7a5e50" opacity="0.35"/>
<ellipse cx="387.0" cy="278.3" rx="14.8" ry="2.80" fill="url(#shed)"/>
<ellipse cx="386.5" cy="277.4" rx="10.3" ry="1.26" fill="#7a5e50" opacity="0.35"/>
<ellipse cx="387.0" cy="284.5" rx="14.8" ry="2.80" fill="url(#shed)"/>
<ellipse cx="386.5" cy="283.6" rx="10.3" ry="1.26" fill="#7a5e50" opacity="0.35"/>
<ellipse cx="387.0" cy="290.7" rx="14.8" ry="2.80" fill="url(#shed)"/>
<ellipse cx="386.5" cy="289.8" rx="10.3" ry="1.26" fill="#7a5e50" opacity="0.35"/>
<ellipse cx="387.0" cy="296.9" rx="14.8" ry="2.80" fill="url(#shed)"/>
<ellipse cx="386.5" cy="296.0" rx="10.3" ry="1.26" fill="#7a5e50" opacity="0.35"/>
<ellipse cx="387.0" cy="303.1" rx="14.8" ry="2.80" fill="url(#shed)"/>
<ellipse cx="386.5" cy="302.2" rx="10.3" ry="1.26" fill="#7a5e50" opacity="0.35"/>
<ellipse cx="387.0" cy="309.3" rx="14.8" ry="2.80" fill="url(#shed)"/>
<ellipse cx="386.5" cy="308.4" rx="10.3" ry="1.26" fill="#7a5e50" opacity="0.35"/>
<rect x="380.2" y="331" width="13.6" height="62" fill="url(#brV)"/>
<ellipse cx="387.0" cy="333.3" rx="14.8" ry="1.30" fill="url(#shed)"/>
<ellipse cx="386.5" cy="332.8" rx="10.3" ry="0.59" fill="#7a5e50" opacity="0.35"/>
<ellipse cx="387.0" cy="336.5" rx="11.2" ry="1.30" fill="url(#shed)"/>
<ellipse cx="386.5" cy="336.1" rx="7.8" ry="0.59" fill="#7a5e50" opacity="0.35"/>
<ellipse cx="387.0" cy="339.8" rx="14.8" ry="1.30" fill="url(#shed)"/>
<ellipse cx="386.5" cy="339.3" rx="10.3" ry="0.59" fill="#7a5e50" opacity="0.35"/>
<ellipse cx="387.0" cy="343.0" rx="11.2" ry="1.30" fill="url(#shed)"/>
<ellipse cx="386.5" cy="342.6" rx="7.8" ry="0.59" fill="#7a5e50" opacity="0.35"/>
<ellipse cx="387.0" cy="346.3" rx="14.8" ry="1.30" fill="url(#shed)"/>
<ellipse cx="386.5" cy="345.8" rx="10.3" ry="0.59" fill="#7a5e50" opacity="0.35"/>
<ellipse cx="387.0" cy="349.5" rx="11.2" ry="1.30" fill="url(#shed)"/>
<ellipse cx="386.5" cy="349.1" rx="7.8" ry="0.59" fill="#7a5e50" opacity="0.35"/>
<ellipse cx="387.0" cy="352.8" rx="14.8" ry="1.30" fill="url(#shed)"/>
<ellipse cx="386.5" cy="352.3" rx="10.3" ry="0.59" fill="#7a5e50" opacity="0.35"/>
<ellipse cx="387.0" cy="356.0" rx="11.2" ry="1.30" fill="url(#shed)"/>
<ellipse cx="386.5" cy="355.6" rx="7.8" ry="0.59" fill="#7a5e50" opacity="0.35"/>
<ellipse cx="387.0" cy="359.3" rx="14.8" ry="1.30" fill="url(#shed)"/>
<ellipse cx="386.5" cy="358.8" rx="10.3" ry="0.59" fill="#7a5e50" opacity="0.35"/>
<ellipse cx="387.0" cy="362.5" rx="11.2" ry="1.30" fill="url(#shed)"/>
<ellipse cx="386.5" cy="362.1" rx="7.8" ry="0.59" fill="#7a5e50" opacity="0.35"/>
<ellipse cx="387.0" cy="365.8" rx="14.8" ry="1.30" fill="url(#shed)"/>
<ellipse cx="386.5" cy="365.3" rx="10.3" ry="0.59" fill="#7a5e50" opacity="0.35"/>
<ellipse cx="387.0" cy="369.0" rx="11.2" ry="1.30" fill="url(#shed)"/>
<ellipse cx="386.5" cy="368.6" rx="7.8" ry="0.59" fill="#7a5e50" opacity="0.35"/>
<ellipse cx="387.0" cy="372.3" rx="14.8" ry="1.30" fill="url(#shed)"/>
<ellipse cx="386.5" cy="371.8" rx="10.3" ry="0.59" fill="#7a5e50" opacity="0.35"/>
<ellipse cx="387.0" cy="375.5" rx="11.2" ry="1.30" fill="url(#shed)"/>
<ellipse cx="386.5" cy="375.1" rx="7.8" ry="0.59" fill="#7a5e50" opacity="0.35"/>
<ellipse cx="387.0" cy="378.8" rx="14.8" ry="1.30" fill="url(#shed)"/>
<ellipse cx="386.5" cy="378.3" rx="10.3" ry="0.59" fill="#7a5e50" opacity="0.35"/>
<ellipse cx="387.0" cy="382.0" rx="11.2" ry="1.30" fill="url(#shed)"/>
<ellipse cx="386.5" cy="381.6" rx="7.8" ry="0.59" fill="#7a5e50" opacity="0.35"/>
<ellipse cx="387.0" cy="385.3" rx="14.8" ry="1.30" fill="url(#shed)"/>
<ellipse cx="386.5" cy="384.8" rx="10.3" ry="0.59" fill="#7a5e50" opacity="0.35"/>
<ellipse cx="387.0" cy="388.5" rx="11.2" ry="1.30" fill="url(#shed)"/>
<ellipse cx="386.5" cy="388.1" rx="7.8" ry="0.59" fill="#7a5e50" opacity="0.35"/>
<ellipse cx="387.0" cy="391.8" rx="14.8" ry="1.30" fill="url(#shed)"/>
<ellipse cx="386.5" cy="391.3" rx="10.3" ry="0.59" fill="#7a5e50" opacity="0.35"/>
<rect x="375.0" y="225.4" width="23" height="17.599999999999994" rx="1.5" fill="url(#silV)"/>
<ellipse cx="386.5" cy="234.2" rx="15.8" ry="2.2" fill="url(#silV)" stroke="#1e1e1c" stroke-width="0.9"/>
<rect x="376.0" y="235.8" width="21" height="7.2" rx="1" fill="url(#silV)"/>
<rect x="375.0" y="313.7" width="23" height="18.0" rx="1.5" fill="url(#silV)"/>
<ellipse cx="386.5" cy="322.7" rx="16.2" ry="2.2" fill="url(#silV)" stroke="#1e1e1c" stroke-width="0.9"/>
<rect x="376.0" y="324.3" width="21" height="7.4" rx="1" fill="url(#silV)"/>
<rect x="374" y="391.3" width="24.7" height="5.2" rx="1.5" fill="url(#silV)"/>
<g transform="translate(259.0,125.2) rotate(12.43)">
<polygon points="0,-12.8 112.6,-10.5 112.6,10.5 0,12.8" fill="url(#brArm)"/>
<circle cx="2.6" cy="-12.4" r="1.91" fill="#3e2a20"/>
<circle cx="2.6" cy="12.4" r="1.91" fill="#21140d"/>
<circle cx="7.9" cy="-12.3" r="1.91" fill="#3e2a20"/>
<circle cx="7.9" cy="12.3" r="1.91" fill="#21140d"/>
<circle cx="13.2" cy="-12.2" r="1.91" fill="#3e2a20"/>
<circle cx="13.2" cy="12.2" r="1.91" fill="#21140d"/>
<circle cx="18.5" cy="-12.1" r="1.91" fill="#3e2a20"/>
<circle cx="18.5" cy="12.1" r="1.91" fill="#21140d"/>
<circle cx="23.8" cy="-12.0" r="1.91" fill="#3e2a20"/>
<circle cx="23.8" cy="12.0" r="1.91" fill="#21140d"/>
<circle cx="29.1" cy="-11.9" r="1.91" fill="#3e2a20"/>
<circle cx="29.1" cy="11.9" r="1.91" fill="#21140d"/>
<circle cx="34.4" cy="-11.8" r="1.91" fill="#3e2a20"/>
<circle cx="34.4" cy="11.8" r="1.91" fill="#21140d"/>
<circle cx="39.8" cy="-11.7" r="1.91" fill="#3e2a20"/>
<circle cx="39.8" cy="11.7" r="1.91" fill="#21140d"/>
<circle cx="45.0" cy="-11.6" r="1.91" fill="#3e2a20"/>
<circle cx="45.0" cy="11.6" r="1.91" fill="#21140d"/>
<circle cx="50.3" cy="-11.4" r="1.91" fill="#3e2a20"/>
<circle cx="50.3" cy="11.4" r="1.91" fill="#21140d"/>
<circle cx="55.6" cy="-11.3" r="1.91" fill="#3e2a20"/>
<circle cx="55.6" cy="11.3" r="1.91" fill="#21140d"/>
<circle cx="60.9" cy="-11.2" r="1.91" fill="#3e2a20"/>
<circle cx="60.9" cy="11.2" r="1.91" fill="#21140d"/>
<circle cx="66.2" cy="-11.1" r="1.91" fill="#3e2a20"/>
<circle cx="66.2" cy="11.1" r="1.91" fill="#21140d"/>
<circle cx="71.5" cy="-11.0" r="1.91" fill="#3e2a20"/>
<circle cx="71.5" cy="11.0" r="1.91" fill="#21140d"/>
<circle cx="76.9" cy="-10.9" r="1.91" fill="#3e2a20"/>
<circle cx="76.9" cy="10.9" r="1.91" fill="#21140d"/>
<circle cx="82.2" cy="-10.8" r="1.91" fill="#3e2a20"/>
<circle cx="82.2" cy="10.8" r="1.91" fill="#21140d"/>
<circle cx="87.5" cy="-10.7" r="1.91" fill="#3e2a20"/>
<circle cx="87.5" cy="10.7" r="1.91" fill="#21140d"/>
<circle cx="92.8" cy="-10.6" r="1.91" fill="#3e2a20"/>
<circle cx="92.8" cy="10.6" r="1.91" fill="#21140d"/>
<circle cx="98.0" cy="-10.5" r="1.91" fill="#3e2a20"/>
<circle cx="98.0" cy="10.5" r="1.91" fill="#21140d"/>
<circle cx="103.4" cy="-10.4" r="1.91" fill="#3e2a20"/>
<circle cx="103.4" cy="10.4" r="1.91" fill="#21140d"/>
<circle cx="108.7" cy="-10.3" r="1.91" fill="#3e2a20"/>
<circle cx="108.7" cy="10.3" r="1.91" fill="#21140d"/>
<polygon points="0,-11.9 112.6,-9.7 112.6,9.7 0,11.9" fill="url(#brArm)"/>
<path d="M0.0,-12.8 Q7.1,0 0.0,12.8" stroke="#33201a" stroke-width="1.1" fill="none" opacity="0.55"/>
<path d="M1.3,-11.8 Q8.4,-2.6 1.3,10.8" stroke="#a08474" stroke-width="0.7" fill="none" opacity="0.5"/>
<path d="M5.3,-12.6 Q12.4,0 5.3,12.6" stroke="#33201a" stroke-width="1.1" fill="none" opacity="0.55"/>
<path d="M6.6,-11.6 Q13.7,-2.5 6.6,10.6" stroke="#a08474" stroke-width="0.7" fill="none" opacity="0.5"/>
<path d="M10.6,-12.5 Q17.6,0 10.6,12.5" stroke="#33201a" stroke-width="1.1" fill="none" opacity="0.55"/>
<path d="M11.9,-11.5 Q18.9,-2.5 11.9,10.5" stroke="#a08474" stroke-width="0.7" fill="none" opacity="0.5"/>
<path d="M15.9,-12.4 Q22.9,0 15.9,12.4" stroke="#33201a" stroke-width="1.1" fill="none" opacity="0.55"/>
<path d="M17.2,-11.4 Q24.2,-2.5 17.2,10.4" stroke="#a08474" stroke-width="0.7" fill="none" opacity="0.5"/>
<path d="M21.2,-12.3 Q28.1,0 21.2,12.3" stroke="#33201a" stroke-width="1.1" fill="none" opacity="0.55"/>
<path d="M22.5,-11.3 Q29.4,-2.5 22.5,10.3" stroke="#a08474" stroke-width="0.7" fill="none" opacity="0.5"/>
<path d="M26.5,-12.2 Q33.3,0 26.5,12.2" stroke="#33201a" stroke-width="1.1" fill="none" opacity="0.55"/>
<path d="M27.8,-11.2 Q34.6,-2.4 27.8,10.2" stroke="#a08474" stroke-width="0.7" fill="none" opacity="0.5"/>
<path d="M31.8,-12.1 Q38.6,0 31.8,12.1" stroke="#33201a" stroke-width="1.1" fill="none" opacity="0.55"/>
<path d="M33.1,-11.1 Q39.9,-2.4 33.1,10.1" stroke="#a08474" stroke-width="0.7" fill="none" opacity="0.5"/>
<path d="M37.1,-12.0 Q43.8,0 37.1,12.0" stroke="#33201a" stroke-width="1.1" fill="none" opacity="0.55"/>
<path d="M38.4,-11.0 Q45.1,-2.4 38.4,10.0" stroke="#a08474" stroke-width="0.7" fill="none" opacity="0.5"/>
<path d="M42.4,-11.9 Q49.1,0 42.4,11.9" stroke="#33201a" stroke-width="1.1" fill="none" opacity="0.55"/>
<path d="M43.7,-10.9 Q50.4,-2.4 43.7,9.9" stroke="#a08474" stroke-width="0.7" fill="none" opacity="0.5"/>
<path d="M47.7,-11.8 Q54.3,0 47.7,11.8" stroke="#33201a" stroke-width="1.1" fill="none" opacity="0.55"/>
<path d="M49.0,-10.8 Q55.6,-2.4 49.0,9.8" stroke="#a08474" stroke-width="0.7" fill="none" opacity="0.5"/>
<path d="M53.0,-11.7 Q59.5,0 53.0,11.7" stroke="#33201a" stroke-width="1.1" fill="none" opacity="0.55"/>
<path d="M54.3,-10.7 Q60.8,-2.3 54.3,9.7" stroke="#a08474" stroke-width="0.7" fill="none" opacity="0.5"/>
<path d="M58.3,-11.6 Q64.8,0 58.3,11.6" stroke="#33201a" stroke-width="1.1" fill="none" opacity="0.55"/>
<path d="M59.6,-10.6 Q66.1,-2.3 59.6,9.6" stroke="#a08474" stroke-width="0.7" fill="none" opacity="0.5"/>
<path d="M63.6,-11.5 Q70.0,0 63.6,11.5" stroke="#33201a" stroke-width="1.1" fill="none" opacity="0.55"/>
<path d="M64.9,-10.5 Q71.3,-2.3 64.9,9.5" stroke="#a08474" stroke-width="0.7" fill="none" opacity="0.5"/>
<path d="M68.9,-11.4 Q75.3,0 68.9,11.4" stroke="#33201a" stroke-width="1.1" fill="none" opacity="0.55"/>
<path d="M70.2,-10.4 Q76.6,-2.3 70.2,9.4" stroke="#a08474" stroke-width="0.7" fill="none" opacity="0.5"/>
<path d="M74.2,-11.3 Q80.5,0 74.2,11.3" stroke="#33201a" stroke-width="1.1" fill="none" opacity="0.55"/>
<path d="M75.5,-10.3 Q81.8,-2.3 75.5,9.3" stroke="#a08474" stroke-width="0.7" fill="none" opacity="0.5"/>
<path d="M79.5,-11.2 Q85.8,0 79.5,11.2" stroke="#33201a" stroke-width="1.1" fill="none" opacity="0.55"/>
<path d="M80.8,-10.2 Q87.1,-2.2 80.8,9.2" stroke="#a08474" stroke-width="0.7" fill="none" opacity="0.5"/>
<path d="M84.8,-11.1 Q91.0,0 84.8,11.1" stroke="#33201a" stroke-width="1.1" fill="none" opacity="0.55"/>
<path d="M86.1,-10.1 Q92.3,-2.2 86.1,9.1" stroke="#a08474" stroke-width="0.7" fill="none" opacity="0.5"/>
<path d="M90.1,-11.0 Q96.2,0 90.1,11.0" stroke="#33201a" stroke-width="1.1" fill="none" opacity="0.55"/>
<path d="M91.4,-10.0 Q97.5,-2.2 91.4,9.0" stroke="#a08474" stroke-width="0.7" fill="none" opacity="0.5"/>
<path d="M95.4,-10.8 Q101.5,0 95.4,10.8" stroke="#33201a" stroke-width="1.1" fill="none" opacity="0.55"/>
<path d="M96.7,-9.8 Q102.8,-2.2 96.7,8.8" stroke="#a08474" stroke-width="0.7" fill="none" opacity="0.5"/>
<path d="M100.7,-10.7 Q106.7,0 100.7,10.7" stroke="#33201a" stroke-width="1.1" fill="none" opacity="0.55"/>
<path d="M102.0,-9.7 Q108.0,-2.1 102.0,8.7" stroke="#a08474" stroke-width="0.7" fill="none" opacity="0.5"/>
<path d="M106.0,-10.6 Q112.0,0 106.0,10.6" stroke="#33201a" stroke-width="1.1" fill="none" opacity="0.55"/>
<path d="M107.3,-9.6 Q113.3,-2.1 107.3,8.6" stroke="#a08474" stroke-width="0.7" fill="none" opacity="0.5"/>
<path d="M111.3,-10.5 Q117.2,0 111.3,10.5" stroke="#33201a" stroke-width="1.1" fill="none" opacity="0.55"/>
<path d="M112.6,-9.5 Q118.5,-2.1 112.6,8.5" stroke="#a08474" stroke-width="0.7" fill="none" opacity="0.5"/>
</g>
<rect x="241.0" y="112.0" width="19.0" height="24.0" rx="6.6" fill="url(#silH)"/>
<rect x="241.0" y="113.4" width="5.7" height="21.1" rx="2.9" fill="#5e605e" opacity="0.55"/>
<g transform="translate(237.5,120.2) rotate(12)">
<ellipse cx="0" cy="0" rx="6.5" ry="18" fill="none" stroke="#3a3c3c" stroke-width="1.3"/>
<line x1="-5.9" y1="8.1" x2="7.8" y2="8.1" stroke="#777" stroke-width="0.8"/>
<line x1="-1.3" y1="-14.4" x2="10.4" y2="-1.8" stroke="#777" stroke-width="0.8"/>
</g>
<g transform="translate(412.0,163.0) rotate(12.98)">
<polygon points="0,-10.6 87.2,-7.4 87.2,7.4 0,10.6" fill="url(#brArm)"/>
<circle cx="2.5" cy="-10.2" r="1.80" fill="#3e2a20"/>
<circle cx="2.5" cy="10.2" r="1.80" fill="#21140d"/>
<circle cx="7.5" cy="-10.0" r="1.80" fill="#3e2a20"/>
<circle cx="7.5" cy="10.0" r="1.80" fill="#21140d"/>
<circle cx="12.5" cy="-9.8" r="1.80" fill="#3e2a20"/>
<circle cx="12.5" cy="9.8" r="1.80" fill="#21140d"/>
<circle cx="17.5" cy="-9.7" r="1.80" fill="#3e2a20"/>
<circle cx="17.5" cy="9.7" r="1.80" fill="#21140d"/>
<circle cx="22.5" cy="-9.5" r="1.80" fill="#3e2a20"/>
<circle cx="22.5" cy="9.5" r="1.80" fill="#21140d"/>
<circle cx="27.5" cy="-9.3" r="1.80" fill="#3e2a20"/>
<circle cx="27.5" cy="9.3" r="1.80" fill="#21140d"/>
<circle cx="32.5" cy="-9.1" r="1.80" fill="#3e2a20"/>
<circle cx="32.5" cy="9.1" r="1.80" fill="#21140d"/>
<circle cx="37.5" cy="-8.9" r="1.80" fill="#3e2a20"/>
<circle cx="37.5" cy="8.9" r="1.80" fill="#21140d"/>
<circle cx="42.5" cy="-8.7" r="1.80" fill="#3e2a20"/>
<circle cx="42.5" cy="8.7" r="1.80" fill="#21140d"/>
<circle cx="47.5" cy="-8.6" r="1.80" fill="#3e2a20"/>
<circle cx="47.5" cy="8.6" r="1.80" fill="#21140d"/>
<circle cx="52.5" cy="-8.4" r="1.80" fill="#3e2a20"/>
<circle cx="52.5" cy="8.4" r="1.80" fill="#21140d"/>
<circle cx="57.5" cy="-8.2" r="1.80" fill="#3e2a20"/>
<circle cx="57.5" cy="8.2" r="1.80" fill="#21140d"/>
<circle cx="62.5" cy="-8.0" r="1.80" fill="#3e2a20"/>
<circle cx="62.5" cy="8.0" r="1.80" fill="#21140d"/>
<circle cx="67.5" cy="-7.8" r="1.80" fill="#3e2a20"/>
<circle cx="67.5" cy="7.8" r="1.80" fill="#21140d"/>
<circle cx="72.5" cy="-7.6" r="1.80" fill="#3e2a20"/>
<circle cx="72.5" cy="7.6" r="1.80" fill="#21140d"/>
<circle cx="77.5" cy="-7.5" r="1.80" fill="#3e2a20"/>
<circle cx="77.5" cy="7.5" r="1.80" fill="#21140d"/>
<circle cx="82.5" cy="-7.3" r="1.80" fill="#3e2a20"/>
<circle cx="82.5" cy="7.3" r="1.80" fill="#21140d"/>
<polygon points="0,-9.8 87.2,-6.6 87.2,6.6 0,9.8" fill="url(#brArm)"/>
<path d="M0.0,-10.6 Q5.9,0 0.0,10.6" stroke="#33201a" stroke-width="1.1" fill="none" opacity="0.55"/>
<path d="M1.3,-9.6 Q7.2,-2.1 1.3,8.6" stroke="#a08474" stroke-width="0.7" fill="none" opacity="0.5"/>
<path d="M5.0,-10.4 Q10.8,0 5.0,10.4" stroke="#33201a" stroke-width="1.1" fill="none" opacity="0.55"/>
<path d="M6.3,-9.4 Q12.1,-2.1 6.3,8.4" stroke="#a08474" stroke-width="0.7" fill="none" opacity="0.5"/>
<path d="M10.0,-10.2 Q15.7,0 10.0,10.2" stroke="#33201a" stroke-width="1.1" fill="none" opacity="0.55"/>
<path d="M11.3,-9.2 Q17.0,-2.0 11.3,8.2" stroke="#a08474" stroke-width="0.7" fill="none" opacity="0.5"/>
<path d="M15.0,-10.0 Q20.6,0 15.0,10.0" stroke="#33201a" stroke-width="1.1" fill="none" opacity="0.55"/>
<path d="M16.3,-9.0 Q21.9,-2.0 16.3,8.0" stroke="#a08474" stroke-width="0.7" fill="none" opacity="0.5"/>
<path d="M20.0,-9.9 Q25.5,0 20.0,9.9" stroke="#33201a" stroke-width="1.1" fill="none" opacity="0.55"/>
<path d="M21.3,-8.9 Q26.8,-2.0 21.3,7.9" stroke="#a08474" stroke-width="0.7" fill="none" opacity="0.5"/>
<path d="M25.0,-9.7 Q30.4,0 25.0,9.7" stroke="#33201a" stroke-width="1.1" fill="none" opacity="0.55"/>
<path d="M26.3,-8.7 Q31.7,-1.9 26.3,7.7" stroke="#a08474" stroke-width="0.7" fill="none" opacity="0.5"/>
<path d="M30.0,-9.5 Q35.3,0 30.0,9.5" stroke="#33201a" stroke-width="1.1" fill="none" opacity="0.55"/>
<path d="M31.3,-8.5 Q36.6,-1.9 31.3,7.5" stroke="#a08474" stroke-width="0.7" fill="none" opacity="0.5"/>
<path d="M35.0,-9.3 Q40.2,0 35.0,9.3" stroke="#33201a" stroke-width="1.1" fill="none" opacity="0.55"/>
<path d="M36.3,-8.3 Q41.5,-1.9 36.3,7.3" stroke="#a08474" stroke-width="0.7" fill="none" opacity="0.5"/>
<path d="M40.0,-9.1 Q45.1,0 40.0,9.1" stroke="#33201a" stroke-width="1.1" fill="none" opacity="0.55"/>
<path d="M41.3,-8.1 Q46.4,-1.8 41.3,7.1" stroke="#a08474" stroke-width="0.7" fill="none" opacity="0.5"/>
<path d="M45.0,-8.9 Q50.0,0 45.0,8.9" stroke="#33201a" stroke-width="1.1" fill="none" opacity="0.55"/>
<path d="M46.3,-7.9 Q51.3,-1.8 46.3,6.9" stroke="#a08474" stroke-width="0.7" fill="none" opacity="0.5"/>
<path d="M50.0,-8.8 Q54.9,0 50.0,8.8" stroke="#33201a" stroke-width="1.1" fill="none" opacity="0.55"/>
<path d="M51.3,-7.8 Q56.2,-1.8 51.3,6.8" stroke="#a08474" stroke-width="0.7" fill="none" opacity="0.5"/>
<path d="M55.0,-8.6 Q59.8,0 55.0,8.6" stroke="#33201a" stroke-width="1.1" fill="none" opacity="0.55"/>
<path d="M56.3,-7.6 Q61.1,-1.7 56.3,6.6" stroke="#a08474" stroke-width="0.7" fill="none" opacity="0.5"/>
<path d="M60.0,-8.4 Q64.7,0 60.0,8.4" stroke="#33201a" stroke-width="1.1" fill="none" opacity="0.55"/>
<path d="M61.3,-7.4 Q66.0,-1.7 61.3,6.4" stroke="#a08474" stroke-width="0.7" fill="none" opacity="0.5"/>
<path d="M65.0,-8.2 Q69.6,0 65.0,8.2" stroke="#33201a" stroke-width="1.1" fill="none" opacity="0.55"/>
<path d="M66.3,-7.2 Q70.9,-1.6 66.3,6.2" stroke="#a08474" stroke-width="0.7" fill="none" opacity="0.5"/>
<path d="M70.0,-8.0 Q74.5,0 70.0,8.0" stroke="#33201a" stroke-width="1.1" fill="none" opacity="0.55"/>
<path d="M71.3,-7.0 Q75.8,-1.6 71.3,6.0" stroke="#a08474" stroke-width="0.7" fill="none" opacity="0.5"/>
<path d="M75.0,-7.8 Q79.4,0 75.0,7.8" stroke="#33201a" stroke-width="1.1" fill="none" opacity="0.55"/>
<path d="M76.3,-6.8 Q80.7,-1.6 76.3,5.8" stroke="#a08474" stroke-width="0.7" fill="none" opacity="0.5"/>
<path d="M80.0,-7.7 Q84.3,0 80.0,7.7" stroke="#33201a" stroke-width="1.1" fill="none" opacity="0.55"/>
<path d="M81.3,-6.7 Q85.6,-1.5 81.3,5.7" stroke="#a08474" stroke-width="0.7" fill="none" opacity="0.5"/>
<path d="M85.0,-7.5 Q89.2,0 85.0,7.5" stroke="#33201a" stroke-width="1.1" fill="none" opacity="0.55"/>
<path d="M86.3,-6.5 Q90.5,-1.5 86.3,5.5" stroke="#a08474" stroke-width="0.7" fill="none" opacity="0.5"/>
</g>
<rect x="495.0" y="175.5" width="10.0" height="14.5" rx="3.5" fill="url(#silH)"/>
<rect x="502.0" y="176.4" width="3.0" height="12.8" rx="1.5" fill="#5e605e" opacity="0.55"/>
<g transform="translate(368.6,152.8) rotate(11.53)">
<polygon points="0,-9.5 44.3,-8.8 44.3,8.8 0,9.5" fill="url(#silArm)"/>
<path d="M8.9,-9.4 Q13.5,0 8.9,9.4" stroke="#5a5c5a" stroke-width="0.8" fill="none" opacity="0.8"/>
<path d="M33.7,-9.0 Q38.2,0 33.7,9.0" stroke="#5a5c5a" stroke-width="0.8" fill="none" opacity="0.8"/>
</g>
<rect x="377" y="163.1" width="20.2" height="14.9" fill="url(#silV)"/>
<path d="M377,163.5 Q377,157.0 387.1,157.0 Q397.2,157.0 397.2,163.5 Z" fill="url(#silV)"/>
<rect x="376.5" y="172.9" width="21.2" height="5.0" rx="1" fill="url(#silV)" stroke="#555" stroke-width="0.4"/>
<polygon points="605,207.7 704,198 730,190 735,203 681,212.5 605,216.5" fill="#dc0a22"/>
<polygon points="605,213 681,208 681,212.5 605,216.5" fill="#b8001a" opacity="0.7"/>
<rect x="660" y="211.5" width="22" height="3" fill="#e4e4e4"/>
<polygon points="704,196 730,190 715,214.4 629,267 621,279 612,262" fill="#dc0a22"/>
<polygon points="708,201 722,199 633,258 622,266" fill="#b8001a" opacity="0.8"/>
<polygon points="714.4,187.5 730.8,184.2 745.2,200 742.3,204.8 717.3,217.3 709.6,216.3 704,198" fill="#e0142a"/>
<polygon points="742.3,204.8 717.3,217.3 709.6,216.3 712,206 736,196 745.2,200" fill="#bc0a1c"/>
<path d="M560,201 L560,183 Q560,178.2 565,178.2 L599,178.2 Q604,178.2 604,183 L604,201 Z" fill="#6d7076"/>
<rect x="567.5" y="178.2" width="31.4" height="19" fill="#f58a07"/>
<rect x="571.3" y="178.2" width="2.7" height="18.5" fill="#fff" opacity="0.95"/>
<rect x="592" y="178.2" width="2.6" height="18.5" fill="#fff" opacity="0.95"/>
<path d="M569.2,165 Q569.2,178.2 582.3,178.2 Q595.5,178.2 595.5,165 Z" fill="#f2d5bb"/>
<path d="M569,162 Q569,145.2 582.3,145.2 Q595.6,145.2 595.6,162 Z" fill="#f7b500"/>
<path d="M579.3,146 Q582.3,144.8 585.3,146 L584.5,159 L580.1,159 Z" fill="#e89c00"/>
<path d="M572,158 Q572,150 577,147.5" stroke="#ffd34a" stroke-width="1.4" fill="none" opacity="0.7"/>
<rect x="566.7" y="160.4" width="30.5" height="6.8" rx="3.4" fill="#f5ae00"/>
<rect x="568" y="164.6" width="28" height="2.4" rx="1.2" fill="#e39a00"/>
<polygon points="557.4,201.5 597.7,201.5 597.7,196 610,196 610,230.6 557.4,230.6" fill="#6e6f73"/>
<rect x="567.5" y="196.8" width="31.4" height="3.4" fill="#ececec"/>
<rect x="539.5" y="192.5" width="27" height="30" rx="1.5" fill="#fff" stroke="#1f2ff0" stroke-width="1.6"/>
<rect x="544.5" y="197.8" width="17" height="21.7" rx="2.5" fill="#f07a22"/>
<rect x="546.5" y="198.5" width="13" height="19" rx="1" fill="#3d3f42"/>
<rect x="549.5" y="201" width="9" height="7.5" fill="#fff" stroke="#f07a22" stroke-width="0.6"/>
<rect x="552" y="204" width="4" height="1.2" fill="#5a6cff"/>
<rect x="544" y="203" width="2.5" height="10" rx="1.2" fill="#d06a2a"/>
<circle cx="550" cy="215" r="0.9" fill="#e02"/><circle cx="554" cy="215" r="0.9" fill="#888"/><circle cx="558" cy="215" r="0.9" fill="#39f"/>
<rect x="546" y="217" width="14" height="2.5" rx="1" fill="#f07a22"/>
<path d="M516,184 Q514,168 526,163 Q538,159 544,170 L551,197" stroke="#c41018" stroke-width="1.3" fill="none"/>
<path d="M527,188 Q524,176 528,167" stroke="#e8a0a0" stroke-width="0.6" fill="none"/>
<path d="M407,197 Q402,206 405,214 Q409,222 418,221 Q440,214 470,210 Q500,207 520,217 Q535,231 545,232 Q566,232 570,214 Q571,198 558,196" stroke="#111" stroke-width="1.3" fill="none"/>
<path d="M500,176 Q506,169 512,172 Q516,176 514,185 Q511,194 506,198 Q500,200 497,196" stroke="#222" stroke-width="1.1" fill="none"/>
<line x1="504" y1="182" x2="515" y2="181" stroke="#c8c8c8" stroke-width="1.2"/>
<path d="M513,186 L523,172 M513,186 L530,181 M515,183 L526,178" stroke="#e0101c" stroke-width="2" fill="none" stroke-linecap="round"/>
<line x1="471" y1="206" x2="484" y2="199" stroke="#3a3a3a" stroke-width="3.6" stroke-linecap="round"/>
<line x1="478" y1="219" x2="489" y2="208" stroke="#3a3a3a" stroke-width="3.6" stroke-linecap="round"/>
<line x1="483" y1="199.5" x2="487" y2="197.5" stroke="#f0c020" stroke-width="2.8"/>
<line x1="488.5" y1="208" x2="491.5" y2="205" stroke="#f0c020" stroke-width="2.8"/>
<path d="M487,197 L495,202 M491,205 L496,201 M490,195 L500,197" stroke="#c0c4c8" stroke-width="1.2" fill="none"/>
<circle cx="408" cy="186.5" r="3" fill="none" stroke="#333" stroke-width="1"/>
<path d="M406,190 L424.5,202.5" stroke="#222" stroke-width="2.6" stroke-linecap="round"/>
<path d="M408,193 L412.5,210" stroke="#222" stroke-width="2" stroke-linecap="round"/>
<path d="M420,203 L415,220" stroke="#777" stroke-width="0.6"/>
<rect x="494.3" y="204" width="3" height="8" fill="#2ec4d4"/>
<path d="M494.8,212 L494.8,479.5 L491.2,485" stroke="#e8672a" stroke-width="1" fill="none"/>
<path d="M496.6,212 L496.6,480 L493,486" stroke="#e8672a" stroke-width="1" fill="none"/>
<rect x="487.5" y="478.3" width="4.2" height="18" fill="#e6e8ea" stroke="#9aa0a6" stroke-width="0.5"/>
<rect x="488.9" y="478.3" width="1.2" height="18" fill="#ffffff" opacity="0.8"/>
<rect x="487.6" y="503" width="1.5" height="8" fill="#dfe1e3"/><rect x="490.1" y="503" width="1.5" height="8" fill="#dfe1e3"/>
<path d="M486,485.5 L479,494 L489,504.5" stroke="#2a3550" stroke-width="4.8" fill="none" stroke-linejoin="round" opacity="0.75"/>
<path d="M486,485.5 L479,494 L489,504.5" stroke="#d8dce0" stroke-width="3.2" fill="none" stroke-linejoin="round"/>
<path d="M486,491 L494,502" stroke="#2a3550" stroke-width="3.4" opacity="0.7"/><path d="M486,491 L494,502" stroke="#c8ccd2" stroke-width="2.2"/>
<path d="M491,494 L499,487" stroke="#2a3550" stroke-width="3.2" opacity="0.7"/><path d="M491,494 L499,487" stroke="#d0d4d8" stroke-width="2"/>
<rect x="496" y="492" width="4" height="5" fill="#c8ccd2" stroke="#2a3550" stroke-width="0.5"/>
<path d="M497,483.5 L505.5,492.5" stroke="#2a3550" stroke-width="2.2" opacity="0.8"/><path d="M497,483.5 L505.5,492.5" stroke="#e6e8ea" stroke-width="1.1"/>
<line x1="489.6" y1="516" x2="489.6" y2="526" stroke="#111" stroke-width="1.3"/>
<line x1="480.2" y1="526" x2="498.9" y2="526" stroke="#111" stroke-width="1.4"/>
<line x1="483.5" y1="530.6" x2="495.9" y2="530.6" stroke="#111" stroke-width="1.3"/>
<line x1="486" y1="534.9" x2="492.8" y2="534.9" stroke="#111" stroke-width="1.3"/>
<ellipse cx="515.2" cy="202.2" rx="9" ry="6.6" fill="#fff" stroke="#111" stroke-width="1.5"/>
<text x="515.2" y="205.39999999999998" font-family="Liberation Sans" font-weight="bold" font-size="9.5" text-anchor="middle" fill="#111">1</text>
<ellipse cx="434" cy="229.5" rx="9" ry="6.6" fill="#fff" stroke="#111" stroke-width="1.5"/>
<text x="434" y="232.7" font-family="Liberation Sans" font-weight="bold" font-size="9.5" text-anchor="middle" fill="#111">2</text>
<ellipse cx="480.4" cy="291.5" rx="9" ry="6.6" fill="#fff" stroke="#111" stroke-width="1.5"/>
<text x="480.4" y="294.7" font-family="Liberation Sans" font-weight="bold" font-size="9.5" text-anchor="middle" fill="#111">3</text>
<rect x="522.5" y="238" width="97" height="137" rx="3" fill="#fff" stroke="#1a2cf0" stroke-width="2"/>
<line x1="558.9" y1="240" x2="558.9" y2="251" stroke="#e8101c" stroke-width="1.9" stroke-dasharray="2.2,1.6"/>
<line x1="566.9" y1="240" x2="566.9" y2="263" stroke="#e8101c" stroke-width="1.9" stroke-dasharray="2.2,1.6"/>
<line x1="585.9" y1="240" x2="585.9" y2="263" stroke="#111" stroke-width="1.9" stroke-dasharray="2.2,1.6"/>
<line x1="593.8" y1="240" x2="593.8" y2="251" stroke="#111" stroke-width="1.9" stroke-dasharray="2.2,1.6"/>
<rect x="554.7" y="255.4" width="8.1" height="13.3" rx="2" fill="#ee1c24"/><rect x="554.7" y="262" width="8.1" height="1" fill="#b80d14"/><rect x="554.2" y="265.5" width="9" height="3.2" fill="#cc1018"/>
<rect x="564.6" y="266.4" width="4.5" height="2.4" fill="#e8101c"/>
<rect x="589.6" y="255.4" width="8.4" height="13.3" rx="2" fill="#2a2a2a"/><rect x="589.6" y="262" width="8.4" height="1" fill="#555"/><rect x="589.1" y="265.5" width="9.4" height="3.2" fill="#151515"/>
<rect x="583.2" y="266.4" width="4.8" height="2.4" fill="#222"/>
<path d="M543,276 L535,283 L531,292" stroke="#333" stroke-width="1.4" fill="none"/>
<rect x="530.2" y="290" width="11" height="63" rx="5" fill="#d46c30" stroke="#2e2e2e" stroke-width="1.4"/>
<rect x="533" y="293" width="3" height="56" rx="1.5" fill="#e88a4a" opacity="0.6"/>
<path d="M534,353 L536,362 L544,371" stroke="#333" stroke-width="1.4" fill="none"/>
<rect x="543.7" y="268" width="66.3" height="102.4" rx="7" fill="#f07a22"/>
<rect x="550" y="268" width="52.8" height="94" rx="3" fill="#3d4043"/>
<rect x="554.8" y="273.5" width="42.4" height="5.5" fill="#f07a22"/>
<rect x="554.8" y="286" width="42.4" height="32" fill="#f07a22"/>
<rect x="556.3" y="288" width="39.4" height="28.5" fill="#fff"/>
<rect x="556.3" y="288" width="39.4" height="1.8" fill="#f07a22"/>
<rect x="557" y="291.5" width="11" height="2.5" fill="#fff" stroke="#f0a070" stroke-width="0.4"/>
<rect x="570" y="291.5" width="11" height="2.5" fill="#fff" stroke="#f0a070" stroke-width="0.4"/>
<rect x="583.5" y="291.5" width="11" height="2.5" fill="#fff" stroke="#f0a070" stroke-width="0.4"/>
<text x="570.5" y="306.5" font-family="Liberation Sans" font-weight="bold" font-size="11" fill="#1a2cf0">0.0</text>
<text x="586.5" y="306.5" font-family="Liberation Sans" font-size="5.5" fill="#1a2cf0">Ω</text>
<rect x="558" y="313" width="7" height="1" fill="#6a7cf0"/><rect x="572" y="313" width="7" height="1" fill="#6a7cf0"/><rect x="590" y="313" width="4" height="1" fill="#6a7cf0"/>
<path d="M545,290 L548,294 M545,298 L548,302 M545,306 L548,310 M545,314 L548,318 M608,290 L605,294 M608,298 L605,302 M608,306 L605,310 M608,314 L605,318" stroke="#c85a10" stroke-width="0.8"/>
<rect x="543.5" y="320" width="64" height="42" rx="5" fill="#3b3e41"/>
<rect x="547.5" y="324.8" width="57" height="35" rx="4" fill="#46494c"/>
<path d="M543.7,356 L543.7,364 Q543.7,370.4 550,370.4 L604,370.4 Q610,370.4 610,364 L610,356 Q606,361 600,361 L554,361 Q547,361 543.7,356 Z" fill="#f07a22"/>
<circle cx="575.8" cy="343.3" r="11.5" fill="#2e3133"/>
<circle cx="575.8" cy="343.3" r="2.6" fill="#777"/>
<path d="M573.5,337.5 L575.8,333.5 L578.1,337.5 Z M573.5,349.1 L575.8,353.1 L578.1,349.1 Z M570,341 L566,343.3 L570,345.6 Z M581.6,341 L585.6,343.3 L581.6,345.6 Z" fill="#d0d0d0"/>
<rect x="555.5" y="334.3" width="6" height="4" rx="1" fill="#5a5d60"/><rect x="591" y="334.3" width="6" height="4" rx="1" fill="#5a5d60"/>
<circle cx="558.5" cy="350.2" r="4" fill="#2a2a2a"/><circle cx="558.5" cy="350.2" r="2.8" fill="#e8101c"/>
<rect x="590.8" y="346" width="6.9" height="8" rx="1" fill="#3f7ef0"/>
<rect x="607.5" y="333" width="2.5" height="3" fill="#f07a22"/><rect x="607.5" y="349" width="2.5" height="3" fill="#f07a22"/>
<rect x="621.7" y="364" width="35" height="7" fill="#b1b1b1"/>
<rect x="652.4" y="360.4" width="13" height="16" fill="#aaaaaa"/>
<polygon points="675.4,365.4 684.6,365.4 687,376.5 673.5,376.5" fill="#f0b400"/>
<rect x="621.5" y="373" width="29.5" height="4.5" fill="#c8101e"/>
<polygon points="620.6,329 649,373 635,373 620.6,347" fill="#dc0a22"/>
<polygon points="620.6,337 645,373 640,373 620.6,343" fill="#b8001a" opacity="0.75"/>
<rect x="538.5" y="388" width="10" height="40" fill="#999"/><rect x="538.5" y="388" width="17" height="2.2" fill="#999"/>
<path d="M539.5,427 L556,440" stroke="#999" stroke-width="2.2"/>
<rect x="703.5" y="388" width="10" height="40" fill="#999"/><rect x="697" y="388" width="16.5" height="2.2" fill="#999"/>
<path d="M712.5,427 L697,440" stroke="#999" stroke-width="2.2"/>
<path d="M555,507 L555,382 Q555,377 560,377 L693.5,377 Q698.4,377 698.4,382 L698.4,507 Z" fill="#ee022b"/>
<rect x="555" y="427.6" width="143.4" height="5" fill="#cc0024"/>
<rect x="559" y="387.7" width="63" height="40" fill="#c5e1e4"/>
<polygon points="559,387.7 608,387.7 559,418" fill="#eef7f7"/>
<rect x="630" y="387.7" width="63.4" height="40" fill="#c5e1e4"/>
<polygon points="630,387.7 679,387.7 630,418" fill="#eef7f7"/>
<rect x="558.5" y="474.7" width="23.3" height="15.3" fill="#c5e1e4"/>
<polygon points="558.5,490 570,474.7 581.8,474.7 581.8,476 571,490" fill="#eef7f7" opacity="0.7"/>
<rect x="671" y="474.7" width="23" height="15.3" fill="#c5e1e4"/>
<polygon points="671,490 682,474.7 694,474.7 694,476 683,490" fill="#eef7f7" opacity="0.7"/>
<rect x="586.8" y="475.5" width="79" height="4.5" fill="#2d3436"/>
<rect x="586.8" y="485" width="79" height="5" fill="#2d3436"/>
<rect x="550.8" y="492.5" width="150.9" height="9.5" fill="#ee022b"/>
<rect x="552.3" y="494" width="147.9" height="6.5" fill="#b3b3b3"/>
<rect x="561.9" y="507" width="24.9" height="19.7" fill="#2b2b2b"/>
<rect x="665.7" y="507" width="25.5" height="19.7" fill="#2b2b2b"/>
</svg>
<div class="t" style="left:35.6px;top:566px;"><span style="letter-spacing:-1.02px;font-size:20px">1.</span>红色测试线(粗线为电流线，细线为电压线)</div>
<div class="t" style="left:35.6px;top:595px;"><span style="letter-spacing:-1.02px;font-size:20px">2.</span>黑色测试线(粗线为电流线，细线为电压线)</div>
<div class="t" style="left:556px;top:566px;"><span style="letter-spacing:-1.02px;font-size:20px">3.</span>接地线</div>
</body></html>
